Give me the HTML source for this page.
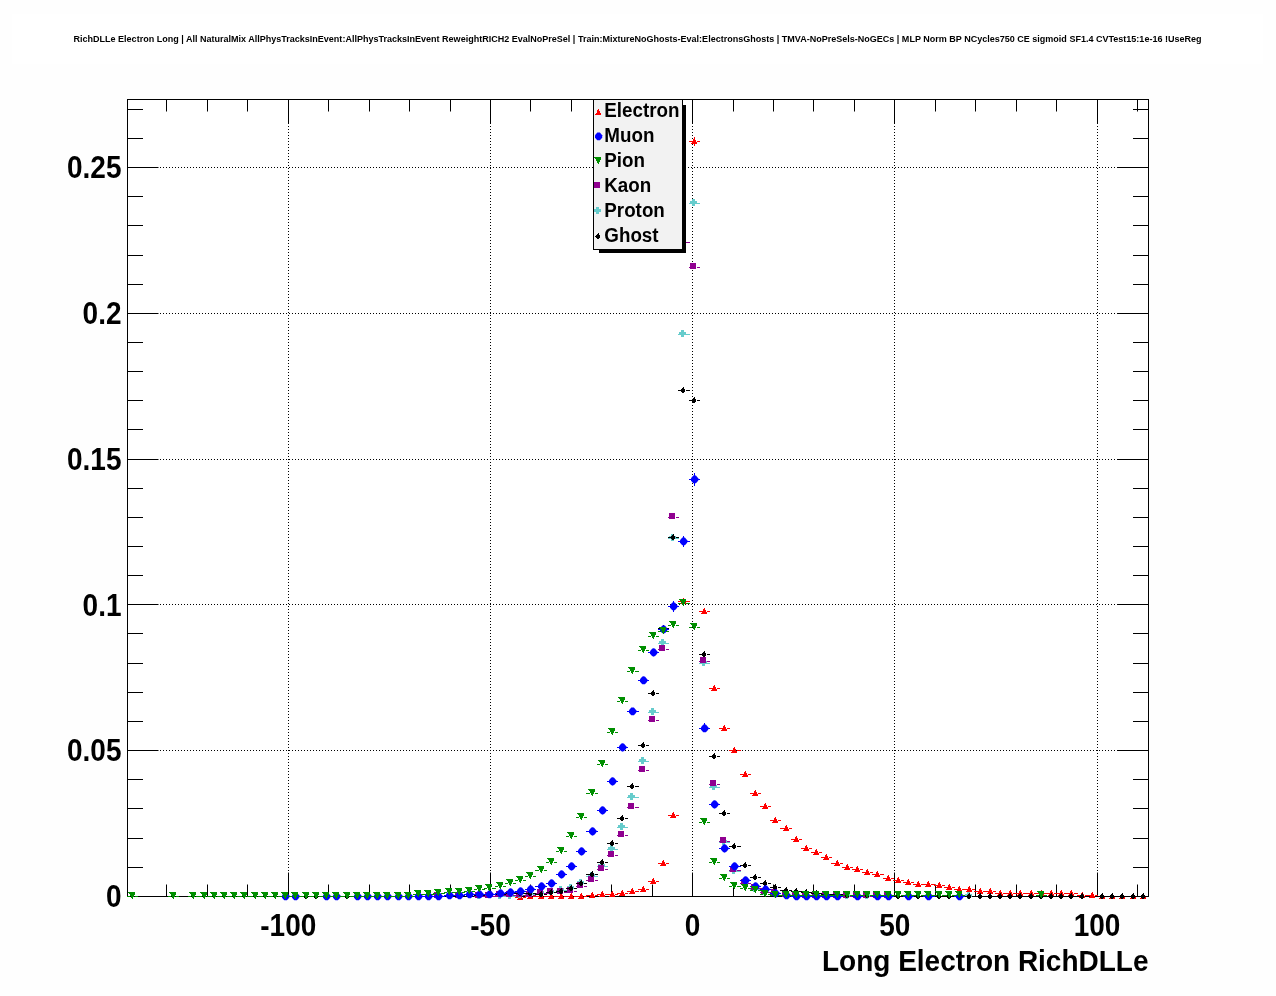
<!DOCTYPE html><html><head><meta charset="utf-8"><style>html,body{margin:0;padding:0;background:#fefefe;width:1276px;height:996px;overflow:hidden;position:relative}</style></head><body><svg width="1276" height="996" viewBox="0 0 1276 996" style="position:absolute;left:0;top:0;will-change:transform">
<rect x="0" y="0" width="1276" height="996" fill="#fefefe"/>
<rect x="12" y="14" width="1251" height="50" fill="#ffffff"/>
<rect x="127" y="99" width="1022" height="798" fill="#ffffff"/>
<text x="637.5" y="41.9" text-anchor="middle" font-family="Liberation Sans" font-weight="bold" font-size="8.7" fill="#000" textLength="1128" lengthAdjust="spacingAndGlyphs">RichDLLe Electron Long | All NaturalMix AllPhysTracksInEvent:AllPhysTracksInEvent ReweightRICH2 EvalNoPreSel | Train:MixtureNoGhosts-Eval:ElectronsGhosts | TMVA-NoPreSels-NoGECs | MLP Norm BP NCycles750 CE sigmoid SF1.4 CVTest15:1e-16 !UseReg</text>
<g stroke="#000" stroke-width="1" stroke-dasharray="1 2" fill="none"><path d="M288.5 895V100" /><path d="M490.5 895V100" /><path d="M692.5 895V100" /><path d="M894.5 895V100" /><path d="M1097.5 895V100" /><path d="M127 750.5H1148" /><path d="M127 604.5H1148" /><path d="M127 459.5H1148" /><path d="M127 313.5H1148" /><path d="M127 167.5H1148" /></g>
<g stroke="#000" stroke-width="1" fill="none"><rect x="127.5" y="99.5" width="1021.0" height="797.0" fill="none"/><path d="M166.5 896.5V884.5M166.5 99.5V111.5"/><path d="M207.5 896.5V884.5M207.5 99.5V111.5"/><path d="M247.5 896.5V884.5M247.5 99.5V111.5"/><path d="M288.5 896.5V872.5M288.5 99.5V123.5"/><path d="M328.5 896.5V884.5M328.5 99.5V111.5"/><path d="M369.5 896.5V884.5M369.5 99.5V111.5"/><path d="M409.5 896.5V884.5M409.5 99.5V111.5"/><path d="M450.5 896.5V884.5M450.5 99.5V111.5"/><path d="M490.5 896.5V872.5M490.5 99.5V123.5"/><path d="M530.5 896.5V884.5M530.5 99.5V111.5"/><path d="M571.5 896.5V884.5M571.5 99.5V111.5"/><path d="M611.5 896.5V884.5M611.5 99.5V111.5"/><path d="M652.5 896.5V884.5M652.5 99.5V111.5"/><path d="M692.5 896.5V872.5M692.5 99.5V123.5"/><path d="M733.5 896.5V884.5M733.5 99.5V111.5"/><path d="M773.5 896.5V884.5M773.5 99.5V111.5"/><path d="M813.5 896.5V884.5M813.5 99.5V111.5"/><path d="M854.5 896.5V884.5M854.5 99.5V111.5"/><path d="M894.5 896.5V872.5M894.5 99.5V123.5"/><path d="M935.5 896.5V884.5M935.5 99.5V111.5"/><path d="M975.5 896.5V884.5M975.5 99.5V111.5"/><path d="M1016.5 896.5V884.5M1016.5 99.5V111.5"/><path d="M1056.5 896.5V884.5M1056.5 99.5V111.5"/><path d="M1097.5 896.5V872.5M1097.5 99.5V123.5"/><path d="M1137.5 896.5V884.5M1137.5 99.5V111.5"/><path d="M127.5 896.5H158.5M1148.5 896.5H1117.5"/><path d="M127.5 867.5H143.0M1148.5 867.5H1133.0"/><path d="M127.5 838.5H143.0M1148.5 838.5H1133.0"/><path d="M127.5 808.5H143.0M1148.5 808.5H1133.0"/><path d="M127.5 779.5H143.0M1148.5 779.5H1133.0"/><path d="M127.5 750.5H158.5M1148.5 750.5H1117.5"/><path d="M127.5 721.5H143.0M1148.5 721.5H1133.0"/><path d="M127.5 692.5H143.0M1148.5 692.5H1133.0"/><path d="M127.5 663.5H143.0M1148.5 663.5H1133.0"/><path d="M127.5 633.5H143.0M1148.5 633.5H1133.0"/><path d="M127.5 604.5H158.5M1148.5 604.5H1117.5"/><path d="M127.5 575.5H143.0M1148.5 575.5H1133.0"/><path d="M127.5 546.5H143.0M1148.5 546.5H1133.0"/><path d="M127.5 517.5H143.0M1148.5 517.5H1133.0"/><path d="M127.5 488.5H143.0M1148.5 488.5H1133.0"/><path d="M127.5 459.5H158.5M1148.5 459.5H1117.5"/><path d="M127.5 429.5H143.0M1148.5 429.5H1133.0"/><path d="M127.5 400.5H143.0M1148.5 400.5H1133.0"/><path d="M127.5 371.5H143.0M1148.5 371.5H1133.0"/><path d="M127.5 342.5H143.0M1148.5 342.5H1133.0"/><path d="M127.5 313.5H158.5M1148.5 313.5H1117.5"/><path d="M127.5 284.5H143.0M1148.5 284.5H1133.0"/><path d="M127.5 255.5H143.0M1148.5 255.5H1133.0"/><path d="M127.5 225.5H143.0M1148.5 225.5H1133.0"/><path d="M127.5 196.5H143.0M1148.5 196.5H1133.0"/><path d="M127.5 167.5H158.5M1148.5 167.5H1117.5"/><path d="M127.5 138.5H143.0M1148.5 138.5H1133.0"/><path d="M127.5 109.5H143.0M1148.5 109.5H1133.0"/></g>
<g shape-rendering="crispEdges"><rect x="515" y="897" width="4" height="1" fill="#ff0000"/><rect x="523" y="897" width="3" height="1" fill="#ff0000"/>
<path d="M520 894h1v1h-1zM519 895h2v1h-2zM519 896h3v1h-3zM519 897h3v1h-3zM518 898h5v1h-5zM517 899h6v1h-6z" fill="#ff0000" shape-rendering="crispEdges"/>
<rect x="525" y="896" width="4" height="1" fill="#ff0000"/><rect x="533" y="896" width="3" height="1" fill="#ff0000"/>
<path d="M530 893h1v1h-1zM529 894h2v1h-2zM529 895h3v1h-3zM529 896h3v1h-3zM528 897h5v1h-5zM527 898h6v1h-6z" fill="#ff0000" shape-rendering="crispEdges"/>
<rect x="535" y="896" width="5" height="1" fill="#ff0000"/><rect x="544" y="896" width="3" height="1" fill="#ff0000"/>
<path d="M541 893h1v1h-1zM540 894h2v1h-2zM540 895h3v1h-3zM540 896h3v1h-3zM539 897h5v1h-5zM538 898h6v1h-6z" fill="#ff0000" shape-rendering="crispEdges"/>
<rect x="546" y="896" width="4" height="1" fill="#ff0000"/><rect x="554" y="896" width="3" height="1" fill="#ff0000"/>
<path d="M551 893h1v1h-1zM550 894h2v1h-2zM550 895h3v1h-3zM550 896h3v1h-3zM549 897h5v1h-5zM548 898h6v1h-6z" fill="#ff0000" shape-rendering="crispEdges"/>
<rect x="556" y="896" width="4" height="1" fill="#ff0000"/><rect x="564" y="896" width="3" height="1" fill="#ff0000"/>
<path d="M561 893h1v1h-1zM560 894h2v1h-2zM560 895h3v1h-3zM560 896h3v1h-3zM559 897h5v1h-5zM558 898h6v1h-6z" fill="#ff0000" shape-rendering="crispEdges"/>
<rect x="566" y="896" width="4" height="1" fill="#ff0000"/><rect x="574" y="896" width="3" height="1" fill="#ff0000"/>
<path d="M571 893h1v1h-1zM570 894h2v1h-2zM570 895h3v1h-3zM570 896h3v1h-3zM569 897h5v1h-5zM568 898h6v1h-6z" fill="#ff0000" shape-rendering="crispEdges"/>
<rect x="576" y="896" width="4" height="1" fill="#ff0000"/><rect x="584" y="896" width="3" height="1" fill="#ff0000"/>
<path d="M581 893h1v1h-1zM580 894h2v1h-2zM580 895h3v1h-3zM580 896h3v1h-3zM579 897h5v1h-5zM578 898h6v1h-6z" fill="#ff0000" shape-rendering="crispEdges"/>
<rect x="586" y="895" width="5" height="1" fill="#ff0000"/><rect x="595" y="895" width="3" height="1" fill="#ff0000"/>
<path d="M592 892h1v1h-1zM591 893h2v1h-2zM591 894h3v1h-3zM591 895h3v1h-3zM590 896h5v1h-5zM589 897h6v1h-6z" fill="#ff0000" shape-rendering="crispEdges"/>
<rect x="597" y="894" width="4" height="1" fill="#ff0000"/><rect x="605" y="894" width="3" height="1" fill="#ff0000"/>
<path d="M602 891h1v1h-1zM601 892h2v1h-2zM601 893h3v1h-3zM601 894h3v1h-3zM600 895h5v1h-5zM599 896h6v1h-6z" fill="#ff0000" shape-rendering="crispEdges"/>
<rect x="607" y="894" width="4" height="1" fill="#ff0000"/><rect x="615" y="894" width="3" height="1" fill="#ff0000"/>
<path d="M612 891h1v1h-1zM611 892h2v1h-2zM611 893h3v1h-3zM611 894h3v1h-3zM610 895h5v1h-5zM609 896h6v1h-6z" fill="#ff0000" shape-rendering="crispEdges"/>
<rect x="617" y="893" width="4" height="1" fill="#ff0000"/><rect x="625" y="893" width="3" height="1" fill="#ff0000"/>
<path d="M622 890h1v1h-1zM621 891h2v1h-2zM621 892h3v1h-3zM621 893h3v1h-3zM620 894h5v1h-5zM619 895h6v1h-6z" fill="#ff0000" shape-rendering="crispEdges"/>
<rect x="627" y="891" width="4" height="1" fill="#ff0000"/><rect x="635" y="891" width="4" height="1" fill="#ff0000"/>
<path d="M632 888h1v1h-1zM631 889h2v1h-2zM631 890h3v1h-3zM631 891h3v1h-3zM630 892h5v1h-5zM629 893h6v1h-6z" fill="#ff0000" shape-rendering="crispEdges"/>
<rect x="638" y="889" width="4" height="1" fill="#ff0000"/><rect x="646" y="889" width="3" height="1" fill="#ff0000"/>
<path d="M643 886h1v1h-1zM642 887h2v1h-2zM642 888h3v1h-3zM642 889h3v1h-3zM641 890h5v1h-5zM640 891h6v1h-6z" fill="#ff0000" shape-rendering="crispEdges"/>
<rect x="648" y="881" width="4" height="1" fill="#ff0000"/><rect x="656" y="881" width="3" height="1" fill="#ff0000"/>
<path d="M653 878h1v1h-1zM652 879h2v1h-2zM652 880h3v1h-3zM652 881h3v1h-3zM651 882h5v1h-5zM650 883h6v1h-6z" fill="#ff0000" shape-rendering="crispEdges"/>
<rect x="658" y="863" width="4" height="1" fill="#ff0000"/><rect x="666" y="863" width="3" height="1" fill="#ff0000"/>
<path d="M663 860h1v1h-1zM662 861h2v1h-2zM662 862h3v1h-3zM662 863h3v1h-3zM661 864h5v1h-5zM660 865h6v1h-6z" fill="#ff0000" shape-rendering="crispEdges"/>
<rect x="668" y="815" width="4" height="1" fill="#ff0000"/><rect x="676" y="815" width="3" height="1" fill="#ff0000"/>
<path d="M673 812h1v1h-1zM672 813h2v1h-2zM672 814h3v1h-3zM672 815h3v1h-3zM671 816h5v1h-5zM670 817h6v1h-6z" fill="#ff0000" shape-rendering="crispEdges"/>
<rect x="678" y="601" width="4" height="1" fill="#ff0000"/><rect x="686" y="601" width="4" height="1" fill="#ff0000"/>
<path d="M683 598h1v1h-1zM682 599h2v1h-2zM682 600h3v1h-3zM682 601h3v1h-3zM681 602h5v1h-5zM680 603h6v1h-6z" fill="#ff0000" shape-rendering="crispEdges"/>
<rect x="689" y="141" width="4" height="1" fill="#ff0000"/><rect x="697" y="141" width="3" height="1" fill="#ff0000"/>
<rect x="694" y="137" width="1" height="9" fill="#ff0000" opacity="1"/>
<path d="M694 138h1v1h-1zM693 139h2v1h-2zM693 140h3v1h-3zM693 141h3v1h-3zM692 142h5v1h-5zM691 143h6v1h-6z" fill="#ff0000" shape-rendering="crispEdges"/>
<rect x="699" y="611" width="4" height="1" fill="#ff0000"/><rect x="707" y="611" width="3" height="1" fill="#ff0000"/>
<path d="M704 608h1v1h-1zM703 609h2v1h-2zM703 610h3v1h-3zM703 611h3v1h-3zM702 612h5v1h-5zM701 613h6v1h-6z" fill="#ff0000" shape-rendering="crispEdges"/>
<rect x="709" y="688" width="4" height="1" fill="#ff0000"/><rect x="717" y="688" width="3" height="1" fill="#ff0000"/>
<path d="M714 685h1v1h-1zM713 686h2v1h-2zM713 687h3v1h-3zM713 688h3v1h-3zM712 689h5v1h-5zM711 690h6v1h-6z" fill="#ff0000" shape-rendering="crispEdges"/>
<rect x="719" y="728" width="4" height="1" fill="#ff0000"/><rect x="727" y="728" width="3" height="1" fill="#ff0000"/>
<path d="M724 725h1v1h-1zM723 726h2v1h-2zM723 727h3v1h-3zM723 728h3v1h-3zM722 729h5v1h-5zM721 730h6v1h-6z" fill="#ff0000" shape-rendering="crispEdges"/>
<rect x="729" y="750" width="4" height="1" fill="#ff0000"/><rect x="737" y="750" width="4" height="1" fill="#ff0000"/>
<path d="M734 747h1v1h-1zM733 748h2v1h-2zM733 749h3v1h-3zM733 750h3v1h-3zM732 751h5v1h-5zM731 752h6v1h-6z" fill="#ff0000" shape-rendering="crispEdges"/>
<rect x="740" y="774" width="4" height="1" fill="#ff0000"/><rect x="748" y="774" width="3" height="1" fill="#ff0000"/>
<path d="M745 771h1v1h-1zM744 772h2v1h-2zM744 773h3v1h-3zM744 774h3v1h-3zM743 775h5v1h-5zM742 776h6v1h-6z" fill="#ff0000" shape-rendering="crispEdges"/>
<rect x="750" y="793" width="4" height="1" fill="#ff0000"/><rect x="758" y="793" width="3" height="1" fill="#ff0000"/>
<path d="M755 790h1v1h-1zM754 791h2v1h-2zM754 792h3v1h-3zM754 793h3v1h-3zM753 794h5v1h-5zM752 795h6v1h-6z" fill="#ff0000" shape-rendering="crispEdges"/>
<rect x="760" y="806" width="4" height="1" fill="#ff0000"/><rect x="768" y="806" width="3" height="1" fill="#ff0000"/>
<path d="M765 803h1v1h-1zM764 804h2v1h-2zM764 805h3v1h-3zM764 806h3v1h-3zM763 807h5v1h-5zM762 808h6v1h-6z" fill="#ff0000" shape-rendering="crispEdges"/>
<rect x="770" y="820" width="4" height="1" fill="#ff0000"/><rect x="778" y="820" width="3" height="1" fill="#ff0000"/>
<path d="M775 817h1v1h-1zM774 818h2v1h-2zM774 819h3v1h-3zM774 820h3v1h-3zM773 821h5v1h-5zM772 822h6v1h-6z" fill="#ff0000" shape-rendering="crispEdges"/>
<rect x="780" y="828" width="5" height="1" fill="#ff0000"/><rect x="789" y="828" width="3" height="1" fill="#ff0000"/>
<path d="M786 825h1v1h-1zM785 826h2v1h-2zM785 827h3v1h-3zM785 828h3v1h-3zM784 829h5v1h-5zM783 830h6v1h-6z" fill="#ff0000" shape-rendering="crispEdges"/>
<rect x="791" y="839" width="4" height="1" fill="#ff0000"/><rect x="799" y="839" width="3" height="1" fill="#ff0000"/>
<path d="M796 836h1v1h-1zM795 837h2v1h-2zM795 838h3v1h-3zM795 839h3v1h-3zM794 840h5v1h-5zM793 841h6v1h-6z" fill="#ff0000" shape-rendering="crispEdges"/>
<rect x="801" y="848" width="4" height="1" fill="#ff0000"/><rect x="809" y="848" width="3" height="1" fill="#ff0000"/>
<path d="M806 845h1v1h-1zM805 846h2v1h-2zM805 847h3v1h-3zM805 848h3v1h-3zM804 849h5v1h-5zM803 850h6v1h-6z" fill="#ff0000" shape-rendering="crispEdges"/>
<rect x="811" y="852" width="4" height="1" fill="#ff0000"/><rect x="819" y="852" width="3" height="1" fill="#ff0000"/>
<path d="M816 849h1v1h-1zM815 850h2v1h-2zM815 851h3v1h-3zM815 852h3v1h-3zM814 853h5v1h-5zM813 854h6v1h-6z" fill="#ff0000" shape-rendering="crispEdges"/>
<rect x="821" y="857" width="4" height="1" fill="#ff0000"/><rect x="829" y="857" width="3" height="1" fill="#ff0000"/>
<path d="M826 854h1v1h-1zM825 855h2v1h-2zM825 856h3v1h-3zM825 857h3v1h-3zM824 858h5v1h-5zM823 859h6v1h-6z" fill="#ff0000" shape-rendering="crispEdges"/>
<rect x="831" y="863" width="5" height="1" fill="#ff0000"/><rect x="840" y="863" width="3" height="1" fill="#ff0000"/>
<path d="M837 860h1v1h-1zM836 861h2v1h-2zM836 862h3v1h-3zM836 863h3v1h-3zM835 864h5v1h-5zM834 865h6v1h-6z" fill="#ff0000" shape-rendering="crispEdges"/>
<rect x="842" y="867" width="4" height="1" fill="#ff0000"/><rect x="850" y="867" width="3" height="1" fill="#ff0000"/>
<path d="M847 864h1v1h-1zM846 865h2v1h-2zM846 866h3v1h-3zM846 867h3v1h-3zM845 868h5v1h-5zM844 869h6v1h-6z" fill="#ff0000" shape-rendering="crispEdges"/>
<rect x="852" y="869" width="4" height="1" fill="#ff0000"/><rect x="860" y="869" width="3" height="1" fill="#ff0000"/>
<path d="M857 866h1v1h-1zM856 867h2v1h-2zM856 868h3v1h-3zM856 869h3v1h-3zM855 870h5v1h-5zM854 871h6v1h-6z" fill="#ff0000" shape-rendering="crispEdges"/>
<rect x="862" y="872" width="4" height="1" fill="#ff0000"/><rect x="870" y="872" width="3" height="1" fill="#ff0000"/>
<path d="M867 869h1v1h-1zM866 870h2v1h-2zM866 871h3v1h-3zM866 872h3v1h-3zM865 873h5v1h-5zM864 874h6v1h-6z" fill="#ff0000" shape-rendering="crispEdges"/>
<rect x="872" y="874" width="4" height="1" fill="#ff0000"/><rect x="880" y="874" width="4" height="1" fill="#ff0000"/>
<path d="M877 871h1v1h-1zM876 872h2v1h-2zM876 873h3v1h-3zM876 874h3v1h-3zM875 875h5v1h-5zM874 876h6v1h-6z" fill="#ff0000" shape-rendering="crispEdges"/>
<rect x="883" y="878" width="4" height="1" fill="#ff0000"/><rect x="891" y="878" width="3" height="1" fill="#ff0000"/>
<path d="M888 875h1v1h-1zM887 876h2v1h-2zM887 877h3v1h-3zM887 878h3v1h-3zM886 879h5v1h-5zM885 880h6v1h-6z" fill="#ff0000" shape-rendering="crispEdges"/>
<rect x="893" y="880" width="4" height="1" fill="#ff0000"/><rect x="901" y="880" width="3" height="1" fill="#ff0000"/>
<path d="M898 877h1v1h-1zM897 878h2v1h-2zM897 879h3v1h-3zM897 880h3v1h-3zM896 881h5v1h-5zM895 882h6v1h-6z" fill="#ff0000" shape-rendering="crispEdges"/>
<rect x="903" y="882" width="4" height="1" fill="#ff0000"/><rect x="911" y="882" width="3" height="1" fill="#ff0000"/>
<path d="M908 879h1v1h-1zM907 880h2v1h-2zM907 881h3v1h-3zM907 882h3v1h-3zM906 883h5v1h-5zM905 884h6v1h-6z" fill="#ff0000" shape-rendering="crispEdges"/>
<rect x="913" y="884" width="4" height="1" fill="#ff0000"/><rect x="921" y="884" width="3" height="1" fill="#ff0000"/>
<path d="M918 881h1v1h-1zM917 882h2v1h-2zM917 883h3v1h-3zM917 884h3v1h-3zM916 885h5v1h-5zM915 886h6v1h-6z" fill="#ff0000" shape-rendering="crispEdges"/>
<rect x="923" y="884" width="4" height="1" fill="#ff0000"/><rect x="931" y="884" width="4" height="1" fill="#ff0000"/>
<path d="M928 881h1v1h-1zM927 882h2v1h-2zM927 883h3v1h-3zM927 884h3v1h-3zM926 885h5v1h-5zM925 886h6v1h-6z" fill="#ff0000" shape-rendering="crispEdges"/>
<rect x="934" y="885" width="4" height="1" fill="#ff0000"/><rect x="942" y="885" width="3" height="1" fill="#ff0000"/>
<path d="M939 882h1v1h-1zM938 883h2v1h-2zM938 884h3v1h-3zM938 885h3v1h-3zM937 886h5v1h-5zM936 887h6v1h-6z" fill="#ff0000" shape-rendering="crispEdges"/>
<rect x="944" y="887" width="4" height="1" fill="#ff0000"/><rect x="952" y="887" width="3" height="1" fill="#ff0000"/>
<path d="M949 884h1v1h-1zM948 885h2v1h-2zM948 886h3v1h-3zM948 887h3v1h-3zM947 888h5v1h-5zM946 889h6v1h-6z" fill="#ff0000" shape-rendering="crispEdges"/>
<rect x="954" y="889" width="4" height="1" fill="#ff0000"/><rect x="962" y="889" width="3" height="1" fill="#ff0000"/>
<path d="M959 886h1v1h-1zM958 887h2v1h-2zM958 888h3v1h-3zM958 889h3v1h-3zM957 890h5v1h-5zM956 891h6v1h-6z" fill="#ff0000" shape-rendering="crispEdges"/>
<rect x="964" y="889" width="4" height="1" fill="#ff0000"/><rect x="972" y="889" width="3" height="1" fill="#ff0000"/>
<path d="M969 886h1v1h-1zM968 887h2v1h-2zM968 888h3v1h-3zM968 889h3v1h-3zM967 890h5v1h-5zM966 891h6v1h-6z" fill="#ff0000" shape-rendering="crispEdges"/>
<rect x="974" y="891" width="5" height="1" fill="#ff0000"/><rect x="983" y="891" width="3" height="1" fill="#ff0000"/>
<path d="M980 888h1v1h-1zM979 889h2v1h-2zM979 890h3v1h-3zM979 891h3v1h-3zM978 892h5v1h-5zM977 893h6v1h-6z" fill="#ff0000" shape-rendering="crispEdges"/>
<rect x="985" y="891" width="4" height="1" fill="#ff0000"/><rect x="993" y="891" width="3" height="1" fill="#ff0000"/>
<path d="M990 888h1v1h-1zM989 889h2v1h-2zM989 890h3v1h-3zM989 891h3v1h-3zM988 892h5v1h-5zM987 893h6v1h-6z" fill="#ff0000" shape-rendering="crispEdges"/>
<rect x="995" y="893" width="4" height="1" fill="#ff0000"/><rect x="1003" y="893" width="3" height="1" fill="#ff0000"/>
<path d="M1000 890h1v1h-1zM999 891h2v1h-2zM999 892h3v1h-3zM999 893h3v1h-3zM998 894h5v1h-5zM997 895h6v1h-6z" fill="#ff0000" shape-rendering="crispEdges"/>
<rect x="1005" y="893" width="4" height="1" fill="#ff0000"/><rect x="1013" y="893" width="3" height="1" fill="#ff0000"/>
<path d="M1010 890h1v1h-1zM1009 891h2v1h-2zM1009 892h3v1h-3zM1009 893h3v1h-3zM1008 894h5v1h-5zM1007 895h6v1h-6z" fill="#ff0000" shape-rendering="crispEdges"/>
<rect x="1015" y="893" width="4" height="1" fill="#ff0000"/><rect x="1023" y="893" width="3" height="1" fill="#ff0000"/>
<path d="M1020 890h1v1h-1zM1019 891h2v1h-2zM1019 892h3v1h-3zM1019 893h3v1h-3zM1018 894h5v1h-5zM1017 895h6v1h-6z" fill="#ff0000" shape-rendering="crispEdges"/>
<rect x="1025" y="893" width="5" height="1" fill="#ff0000"/><rect x="1034" y="893" width="3" height="1" fill="#ff0000"/>
<path d="M1031 890h1v1h-1zM1030 891h2v1h-2zM1030 892h3v1h-3zM1030 893h3v1h-3zM1029 894h5v1h-5zM1028 895h6v1h-6z" fill="#ff0000" shape-rendering="crispEdges"/>
<rect x="1036" y="893" width="4" height="1" fill="#ff0000"/><rect x="1044" y="893" width="3" height="1" fill="#ff0000"/>
<path d="M1041 890h1v1h-1zM1040 891h2v1h-2zM1040 892h3v1h-3zM1040 893h3v1h-3zM1039 894h5v1h-5zM1038 895h6v1h-6z" fill="#ff0000" shape-rendering="crispEdges"/>
<rect x="1046" y="893" width="4" height="1" fill="#ff0000"/><rect x="1054" y="893" width="3" height="1" fill="#ff0000"/>
<path d="M1051 890h1v1h-1zM1050 891h2v1h-2zM1050 892h3v1h-3zM1050 893h3v1h-3zM1049 894h5v1h-5zM1048 895h6v1h-6z" fill="#ff0000" shape-rendering="crispEdges"/>
<rect x="1056" y="893" width="4" height="1" fill="#ff0000"/><rect x="1064" y="893" width="3" height="1" fill="#ff0000"/>
<path d="M1061 890h1v1h-1zM1060 891h2v1h-2zM1060 892h3v1h-3zM1060 893h3v1h-3zM1059 894h5v1h-5zM1058 895h6v1h-6z" fill="#ff0000" shape-rendering="crispEdges"/>
<rect x="1066" y="893" width="4" height="1" fill="#ff0000"/><rect x="1074" y="893" width="4" height="1" fill="#ff0000"/>
<path d="M1071 890h1v1h-1zM1070 891h2v1h-2zM1070 892h3v1h-3zM1070 893h3v1h-3zM1069 894h5v1h-5zM1068 895h6v1h-6z" fill="#ff0000" shape-rendering="crispEdges"/>
<rect x="1077" y="895" width="4" height="1" fill="#ff0000"/><rect x="1085" y="895" width="3" height="1" fill="#ff0000"/>
<path d="M1082 892h1v1h-1zM1081 893h2v1h-2zM1081 894h3v1h-3zM1081 895h3v1h-3zM1080 896h5v1h-5zM1079 897h6v1h-6z" fill="#ff0000" shape-rendering="crispEdges"/>
<rect x="1087" y="895" width="4" height="1" fill="#ff0000"/><rect x="1095" y="895" width="3" height="1" fill="#ff0000"/>
<path d="M1092 892h1v1h-1zM1091 893h2v1h-2zM1091 894h3v1h-3zM1091 895h3v1h-3zM1090 896h5v1h-5zM1089 897h6v1h-6z" fill="#ff0000" shape-rendering="crispEdges"/>
<rect x="1097" y="896" width="4" height="1" fill="#ff0000"/><rect x="1105" y="896" width="3" height="1" fill="#ff0000"/>
<path d="M1102 893h1v1h-1zM1101 894h2v1h-2zM1101 895h3v1h-3zM1101 896h3v1h-3zM1100 897h5v1h-5zM1099 898h6v1h-6z" fill="#ff0000" shape-rendering="crispEdges"/>
<rect x="1107" y="896" width="4" height="1" fill="#ff0000"/><rect x="1115" y="896" width="3" height="1" fill="#ff0000"/>
<path d="M1112 893h1v1h-1zM1111 894h2v1h-2zM1111 895h3v1h-3zM1111 896h3v1h-3zM1110 897h5v1h-5zM1109 898h6v1h-6z" fill="#ff0000" shape-rendering="crispEdges"/>
<rect x="1117" y="896" width="4" height="1" fill="#ff0000"/><rect x="1125" y="896" width="4" height="1" fill="#ff0000"/>
<path d="M1122 893h1v1h-1zM1121 894h2v1h-2zM1121 895h3v1h-3zM1121 896h3v1h-3zM1120 897h5v1h-5zM1119 898h6v1h-6z" fill="#ff0000" shape-rendering="crispEdges"/>
<rect x="1128" y="896" width="4" height="1" fill="#ff0000"/><rect x="1136" y="896" width="3" height="1" fill="#ff0000"/>
<path d="M1133 893h1v1h-1zM1132 894h2v1h-2zM1132 895h3v1h-3zM1132 896h3v1h-3zM1131 897h5v1h-5zM1130 898h6v1h-6z" fill="#ff0000" shape-rendering="crispEdges"/>
<rect x="1138" y="896" width="4" height="1" fill="#ff0000"/><rect x="1146" y="896" width="3" height="1" fill="#ff0000"/>
<path d="M1143 893h1v1h-1zM1142 894h2v1h-2zM1142 895h3v1h-3zM1142 896h3v1h-3zM1141 897h5v1h-5zM1140 898h6v1h-6z" fill="#ff0000" shape-rendering="crispEdges"/></g>
<g shape-rendering="crispEdges"><rect x="474" y="896" width="3" height="1" fill="#66cccc"/><rect x="482" y="896" width="3" height="1" fill="#66cccc"/>
<path d="M477 892h3v1h-3zM477 893h3v1h-3zM475 894h7v1h-7zM475 895h7v1h-7zM475 896h7v1h-7zM477 897h3v1h-3zM477 898h3v1h-3z" fill="#66cccc" shape-rendering="crispEdges"/>
<rect x="495" y="896" width="3" height="1" fill="#66cccc"/><rect x="503" y="896" width="3" height="1" fill="#66cccc"/>
<path d="M498 892h3v1h-3zM498 893h3v1h-3zM496 894h7v1h-7zM496 895h7v1h-7zM496 896h7v1h-7zM498 897h3v1h-3zM498 898h3v1h-3z" fill="#66cccc" shape-rendering="crispEdges"/>
<rect x="505" y="896" width="3" height="1" fill="#66cccc"/><rect x="513" y="896" width="3" height="1" fill="#66cccc"/>
<path d="M508 892h3v1h-3zM508 893h3v1h-3zM506 894h7v1h-7zM506 895h7v1h-7zM506 896h7v1h-7zM508 897h3v1h-3zM508 898h3v1h-3z" fill="#66cccc" shape-rendering="crispEdges"/>
<rect x="515" y="895" width="3" height="1" fill="#66cccc"/><rect x="523" y="895" width="3" height="1" fill="#66cccc"/>
<path d="M518 891h3v1h-3zM518 892h3v1h-3zM516 893h7v1h-7zM516 894h7v1h-7zM516 895h7v1h-7zM518 896h3v1h-3zM518 897h3v1h-3z" fill="#66cccc" shape-rendering="crispEdges"/>
<rect x="525" y="894" width="3" height="1" fill="#66cccc"/><rect x="533" y="894" width="3" height="1" fill="#66cccc"/>
<path d="M528 890h3v1h-3zM528 891h3v1h-3zM526 892h7v1h-7zM526 893h7v1h-7zM526 894h7v1h-7zM528 895h3v1h-3zM528 896h3v1h-3z" fill="#66cccc" shape-rendering="crispEdges"/>
<rect x="535" y="893" width="4" height="1" fill="#66cccc"/><rect x="544" y="893" width="3" height="1" fill="#66cccc"/>
<path d="M539 889h3v1h-3zM539 890h3v1h-3zM537 891h7v1h-7zM537 892h7v1h-7zM537 893h7v1h-7zM539 894h3v1h-3zM539 895h3v1h-3z" fill="#66cccc" shape-rendering="crispEdges"/>
<rect x="546" y="892" width="3" height="1" fill="#66cccc"/><rect x="554" y="892" width="3" height="1" fill="#66cccc"/>
<path d="M549 888h3v1h-3zM549 889h3v1h-3zM547 890h7v1h-7zM547 891h7v1h-7zM547 892h7v1h-7zM549 893h3v1h-3zM549 894h3v1h-3z" fill="#66cccc" shape-rendering="crispEdges"/>
<rect x="556" y="890" width="3" height="1" fill="#66cccc"/><rect x="564" y="890" width="3" height="1" fill="#66cccc"/>
<path d="M559 886h3v1h-3zM559 887h3v1h-3zM557 888h7v1h-7zM557 889h7v1h-7zM557 890h7v1h-7zM559 891h3v1h-3zM559 892h3v1h-3z" fill="#66cccc" shape-rendering="crispEdges"/>
<rect x="566" y="888" width="3" height="1" fill="#66cccc"/><rect x="574" y="888" width="3" height="1" fill="#66cccc"/>
<path d="M569 884h3v1h-3zM569 885h3v1h-3zM567 886h7v1h-7zM567 887h7v1h-7zM567 888h7v1h-7zM569 889h3v1h-3zM569 890h3v1h-3z" fill="#66cccc" shape-rendering="crispEdges"/>
<rect x="576" y="883" width="3" height="1" fill="#66cccc"/><rect x="584" y="883" width="3" height="1" fill="#66cccc"/>
<path d="M579 879h3v1h-3zM579 880h3v1h-3zM577 881h7v1h-7zM577 882h7v1h-7zM577 883h7v1h-7zM579 884h3v1h-3zM579 885h3v1h-3z" fill="#66cccc" shape-rendering="crispEdges"/>
<rect x="586" y="876" width="4" height="1" fill="#66cccc"/><rect x="595" y="876" width="3" height="1" fill="#66cccc"/>
<path d="M590 872h3v1h-3zM590 873h3v1h-3zM588 874h7v1h-7zM588 875h7v1h-7zM588 876h7v1h-7zM590 877h3v1h-3zM590 878h3v1h-3z" fill="#66cccc" shape-rendering="crispEdges"/>
<rect x="597" y="866" width="3" height="1" fill="#66cccc"/><rect x="605" y="866" width="3" height="1" fill="#66cccc"/>
<path d="M600 862h3v1h-3zM600 863h3v1h-3zM598 864h7v1h-7zM598 865h7v1h-7zM598 866h7v1h-7zM600 867h3v1h-3zM600 868h3v1h-3z" fill="#66cccc" shape-rendering="crispEdges"/>
<rect x="607" y="849" width="3" height="1" fill="#66cccc"/><rect x="615" y="849" width="3" height="1" fill="#66cccc"/>
<path d="M610 845h3v1h-3zM610 846h3v1h-3zM608 847h7v1h-7zM608 848h7v1h-7zM608 849h7v1h-7zM610 850h3v1h-3zM610 851h3v1h-3z" fill="#66cccc" shape-rendering="crispEdges"/>
<rect x="617" y="827" width="3" height="1" fill="#66cccc"/><rect x="625" y="827" width="3" height="1" fill="#66cccc"/>
<path d="M620 823h3v1h-3zM620 824h3v1h-3zM618 825h7v1h-7zM618 826h7v1h-7zM618 827h7v1h-7zM620 828h3v1h-3zM620 829h3v1h-3z" fill="#66cccc" shape-rendering="crispEdges"/>
<rect x="627" y="797" width="3" height="1" fill="#66cccc"/><rect x="635" y="797" width="4" height="1" fill="#66cccc"/>
<path d="M630 793h3v1h-3zM630 794h3v1h-3zM628 795h7v1h-7zM628 796h7v1h-7zM628 797h7v1h-7zM630 798h3v1h-3zM630 799h3v1h-3z" fill="#66cccc" shape-rendering="crispEdges"/>
<rect x="638" y="761" width="3" height="1" fill="#66cccc"/><rect x="646" y="761" width="3" height="1" fill="#66cccc"/>
<path d="M641 757h3v1h-3zM641 758h3v1h-3zM639 759h7v1h-7zM639 760h7v1h-7zM639 761h7v1h-7zM641 762h3v1h-3zM641 763h3v1h-3z" fill="#66cccc" shape-rendering="crispEdges"/>
<rect x="648" y="712" width="3" height="1" fill="#66cccc"/><rect x="656" y="712" width="3" height="1" fill="#66cccc"/>
<path d="M651 708h3v1h-3zM651 709h3v1h-3zM649 710h7v1h-7zM649 711h7v1h-7zM649 712h7v1h-7zM651 713h3v1h-3zM651 714h3v1h-3z" fill="#66cccc" shape-rendering="crispEdges"/>
<rect x="658" y="643" width="3" height="1" fill="#66cccc"/><rect x="666" y="643" width="3" height="1" fill="#66cccc"/>
<path d="M661 639h3v1h-3zM661 640h3v1h-3zM659 641h7v1h-7zM659 642h7v1h-7zM659 643h7v1h-7zM661 644h3v1h-3zM661 645h3v1h-3z" fill="#66cccc" shape-rendering="crispEdges"/>
<rect x="668" y="538" width="3" height="1" fill="#66cccc"/><rect x="676" y="538" width="3" height="1" fill="#66cccc"/>
<path d="M671 534h3v1h-3zM671 535h3v1h-3zM669 536h7v1h-7zM669 537h7v1h-7zM669 538h7v1h-7zM671 539h3v1h-3zM671 540h3v1h-3z" fill="#66cccc" shape-rendering="crispEdges"/>
<rect x="678" y="334" width="3" height="1" fill="#66cccc"/><rect x="686" y="334" width="4" height="1" fill="#66cccc"/>
<path d="M681 330h3v1h-3zM681 331h3v1h-3zM679 332h7v1h-7zM679 333h7v1h-7zM679 334h7v1h-7zM681 335h3v1h-3zM681 336h3v1h-3z" fill="#66cccc" shape-rendering="crispEdges"/>
<rect x="689" y="203" width="3" height="1" fill="#66cccc"/><rect x="697" y="203" width="3" height="1" fill="#66cccc"/>
<path d="M692 199h3v1h-3zM692 200h3v1h-3zM690 201h7v1h-7zM690 202h7v1h-7zM690 203h7v1h-7zM692 204h3v1h-3zM692 205h3v1h-3z" fill="#66cccc" shape-rendering="crispEdges"/>
<rect x="699" y="663" width="3" height="1" fill="#66cccc"/><rect x="707" y="663" width="3" height="1" fill="#66cccc"/>
<path d="M702 659h3v1h-3zM702 660h3v1h-3zM700 661h7v1h-7zM700 662h7v1h-7zM700 663h7v1h-7zM702 664h3v1h-3zM702 665h3v1h-3z" fill="#66cccc" shape-rendering="crispEdges"/>
<rect x="709" y="787" width="3" height="1" fill="#66cccc"/><rect x="717" y="787" width="3" height="1" fill="#66cccc"/>
<path d="M712 783h3v1h-3zM712 784h3v1h-3zM710 785h7v1h-7zM710 786h7v1h-7zM710 787h7v1h-7zM712 788h3v1h-3zM712 789h3v1h-3z" fill="#66cccc" shape-rendering="crispEdges"/>
<rect x="719" y="842" width="3" height="1" fill="#66cccc"/><rect x="727" y="842" width="3" height="1" fill="#66cccc"/>
<path d="M722 838h3v1h-3zM722 839h3v1h-3zM720 840h7v1h-7zM720 841h7v1h-7zM720 842h7v1h-7zM722 843h3v1h-3zM722 844h3v1h-3z" fill="#66cccc" shape-rendering="crispEdges"/>
<rect x="729" y="871" width="3" height="1" fill="#66cccc"/><rect x="737" y="871" width="4" height="1" fill="#66cccc"/>
<path d="M732 867h3v1h-3zM732 868h3v1h-3zM730 869h7v1h-7zM730 870h7v1h-7zM730 871h7v1h-7zM732 872h3v1h-3zM732 873h3v1h-3z" fill="#66cccc" shape-rendering="crispEdges"/>
<rect x="740" y="883" width="3" height="1" fill="#66cccc"/><rect x="748" y="883" width="3" height="1" fill="#66cccc"/>
<path d="M743 879h3v1h-3zM743 880h3v1h-3zM741 881h7v1h-7zM741 882h7v1h-7zM741 883h7v1h-7zM743 884h3v1h-3zM743 885h3v1h-3z" fill="#66cccc" shape-rendering="crispEdges"/>
<rect x="750" y="889" width="3" height="1" fill="#66cccc"/><rect x="758" y="889" width="3" height="1" fill="#66cccc"/>
<path d="M753 885h3v1h-3zM753 886h3v1h-3zM751 887h7v1h-7zM751 888h7v1h-7zM751 889h7v1h-7zM753 890h3v1h-3zM753 891h3v1h-3z" fill="#66cccc" shape-rendering="crispEdges"/>
<rect x="760" y="892" width="3" height="1" fill="#66cccc"/><rect x="768" y="892" width="3" height="1" fill="#66cccc"/>
<path d="M763 888h3v1h-3zM763 889h3v1h-3zM761 890h7v1h-7zM761 891h7v1h-7zM761 892h7v1h-7zM763 893h3v1h-3zM763 894h3v1h-3z" fill="#66cccc" shape-rendering="crispEdges"/>
<rect x="770" y="893" width="3" height="1" fill="#66cccc"/><rect x="778" y="893" width="3" height="1" fill="#66cccc"/>
<path d="M773 889h3v1h-3zM773 890h3v1h-3zM771 891h7v1h-7zM771 892h7v1h-7zM771 893h7v1h-7zM773 894h3v1h-3zM773 895h3v1h-3z" fill="#66cccc" shape-rendering="crispEdges"/>
<rect x="780" y="895" width="4" height="1" fill="#66cccc"/><rect x="789" y="895" width="3" height="1" fill="#66cccc"/>
<path d="M784 891h3v1h-3zM784 892h3v1h-3zM782 893h7v1h-7zM782 894h7v1h-7zM782 895h7v1h-7zM784 896h3v1h-3zM784 897h3v1h-3z" fill="#66cccc" shape-rendering="crispEdges"/>
<rect x="791" y="895" width="3" height="1" fill="#66cccc"/><rect x="799" y="895" width="3" height="1" fill="#66cccc"/>
<path d="M794 891h3v1h-3zM794 892h3v1h-3zM792 893h7v1h-7zM792 894h7v1h-7zM792 895h7v1h-7zM794 896h3v1h-3zM794 897h3v1h-3z" fill="#66cccc" shape-rendering="crispEdges"/>
<rect x="801" y="896" width="3" height="1" fill="#66cccc"/><rect x="809" y="896" width="3" height="1" fill="#66cccc"/>
<path d="M804 892h3v1h-3zM804 893h3v1h-3zM802 894h7v1h-7zM802 895h7v1h-7zM802 896h7v1h-7zM804 897h3v1h-3zM804 898h3v1h-3z" fill="#66cccc" shape-rendering="crispEdges"/>
<rect x="811" y="896" width="3" height="1" fill="#66cccc"/><rect x="819" y="896" width="3" height="1" fill="#66cccc"/>
<path d="M814 892h3v1h-3zM814 893h3v1h-3zM812 894h7v1h-7zM812 895h7v1h-7zM812 896h7v1h-7zM814 897h3v1h-3zM814 898h3v1h-3z" fill="#66cccc" shape-rendering="crispEdges"/>
<rect x="821" y="896" width="3" height="1" fill="#66cccc"/><rect x="829" y="896" width="3" height="1" fill="#66cccc"/>
<path d="M824 892h3v1h-3zM824 893h3v1h-3zM822 894h7v1h-7zM822 895h7v1h-7zM822 896h7v1h-7zM824 897h3v1h-3zM824 898h3v1h-3z" fill="#66cccc" shape-rendering="crispEdges"/>
<rect x="842" y="896" width="3" height="1" fill="#66cccc"/><rect x="850" y="896" width="3" height="1" fill="#66cccc"/>
<path d="M845 892h3v1h-3zM845 893h3v1h-3zM843 894h7v1h-7zM843 895h7v1h-7zM843 896h7v1h-7zM845 897h3v1h-3zM845 898h3v1h-3z" fill="#66cccc" shape-rendering="crispEdges"/>
<rect x="862" y="896" width="3" height="1" fill="#66cccc"/><rect x="870" y="896" width="3" height="1" fill="#66cccc"/>
<path d="M865 892h3v1h-3zM865 893h3v1h-3zM863 894h7v1h-7zM863 895h7v1h-7zM863 896h7v1h-7zM865 897h3v1h-3zM865 898h3v1h-3z" fill="#66cccc" shape-rendering="crispEdges"/>
<rect x="964" y="896" width="3" height="1" fill="#66cccc"/><rect x="972" y="896" width="3" height="1" fill="#66cccc"/>
<path d="M967 892h3v1h-3zM967 893h3v1h-3zM965 894h7v1h-7zM965 895h7v1h-7zM965 896h7v1h-7zM967 897h3v1h-3zM967 898h3v1h-3z" fill="#66cccc" shape-rendering="crispEdges"/></g>
<g shape-rendering="crispEdges"><rect x="433" y="896" width="3" height="1" fill="#900090"/><rect x="441" y="896" width="4" height="1" fill="#900090"/>
<path d="M434 892h6v1h-6zM434 893h6v1h-6zM434 894h6v1h-6zM434 895h6v1h-6zM434 896h6v1h-6zM434 897h6v1h-6z" fill="#900090" shape-rendering="crispEdges"/>
<rect x="454" y="896" width="3" height="1" fill="#900090"/><rect x="462" y="896" width="3" height="1" fill="#900090"/>
<path d="M455 892h6v1h-6zM455 893h6v1h-6zM455 894h6v1h-6zM455 895h6v1h-6zM455 896h6v1h-6zM455 897h6v1h-6z" fill="#900090" shape-rendering="crispEdges"/>
<rect x="474" y="896" width="3" height="1" fill="#900090"/><rect x="482" y="896" width="3" height="1" fill="#900090"/>
<path d="M475 892h6v1h-6zM475 893h6v1h-6zM475 894h6v1h-6zM475 895h6v1h-6zM475 896h6v1h-6zM475 897h6v1h-6z" fill="#900090" shape-rendering="crispEdges"/>
<rect x="484" y="896" width="3" height="1" fill="#900090"/><rect x="492" y="896" width="4" height="1" fill="#900090"/>
<path d="M485 892h6v1h-6zM485 893h6v1h-6zM485 894h6v1h-6zM485 895h6v1h-6zM485 896h6v1h-6zM485 897h6v1h-6z" fill="#900090" shape-rendering="crispEdges"/>
<rect x="495" y="895" width="3" height="1" fill="#900090"/><rect x="503" y="895" width="3" height="1" fill="#900090"/>
<path d="M496 891h6v1h-6zM496 892h6v1h-6zM496 893h6v1h-6zM496 894h6v1h-6zM496 895h6v1h-6zM496 896h6v1h-6z" fill="#900090" shape-rendering="crispEdges"/>
<rect x="505" y="895" width="3" height="1" fill="#900090"/><rect x="513" y="895" width="3" height="1" fill="#900090"/>
<path d="M506 891h6v1h-6zM506 892h6v1h-6zM506 893h6v1h-6zM506 894h6v1h-6zM506 895h6v1h-6zM506 896h6v1h-6z" fill="#900090" shape-rendering="crispEdges"/>
<rect x="515" y="895" width="3" height="1" fill="#900090"/><rect x="523" y="895" width="3" height="1" fill="#900090"/>
<path d="M516 891h6v1h-6zM516 892h6v1h-6zM516 893h6v1h-6zM516 894h6v1h-6zM516 895h6v1h-6zM516 896h6v1h-6z" fill="#900090" shape-rendering="crispEdges"/>
<rect x="525" y="895" width="3" height="1" fill="#900090"/><rect x="533" y="895" width="3" height="1" fill="#900090"/>
<path d="M526 891h6v1h-6zM526 892h6v1h-6zM526 893h6v1h-6zM526 894h6v1h-6zM526 895h6v1h-6zM526 896h6v1h-6z" fill="#900090" shape-rendering="crispEdges"/>
<rect x="535" y="893" width="4" height="1" fill="#900090"/><rect x="544" y="893" width="3" height="1" fill="#900090"/>
<path d="M537 889h6v1h-6zM537 890h6v1h-6zM537 891h6v1h-6zM537 892h6v1h-6zM537 893h6v1h-6zM537 894h6v1h-6z" fill="#900090" shape-rendering="crispEdges"/>
<rect x="546" y="892" width="3" height="1" fill="#900090"/><rect x="554" y="892" width="3" height="1" fill="#900090"/>
<path d="M547 888h6v1h-6zM547 889h6v1h-6zM547 890h6v1h-6zM547 891h6v1h-6zM547 892h6v1h-6zM547 893h6v1h-6z" fill="#900090" shape-rendering="crispEdges"/>
<rect x="556" y="892" width="3" height="1" fill="#900090"/><rect x="564" y="892" width="3" height="1" fill="#900090"/>
<path d="M557 888h6v1h-6zM557 889h6v1h-6zM557 890h6v1h-6zM557 891h6v1h-6zM557 892h6v1h-6zM557 893h6v1h-6z" fill="#900090" shape-rendering="crispEdges"/>
<rect x="566" y="891" width="3" height="1" fill="#900090"/><rect x="574" y="891" width="3" height="1" fill="#900090"/>
<path d="M567 887h6v1h-6zM567 888h6v1h-6zM567 889h6v1h-6zM567 890h6v1h-6zM567 891h6v1h-6zM567 892h6v1h-6z" fill="#900090" shape-rendering="crispEdges"/>
<rect x="576" y="886" width="3" height="1" fill="#900090"/><rect x="584" y="886" width="3" height="1" fill="#900090"/>
<path d="M577 882h6v1h-6zM577 883h6v1h-6zM577 884h6v1h-6zM577 885h6v1h-6zM577 886h6v1h-6zM577 887h6v1h-6z" fill="#900090" shape-rendering="crispEdges"/>
<rect x="586" y="880" width="4" height="1" fill="#900090"/><rect x="595" y="880" width="3" height="1" fill="#900090"/>
<path d="M588 876h6v1h-6zM588 877h6v1h-6zM588 878h6v1h-6zM588 879h6v1h-6zM588 880h6v1h-6zM588 881h6v1h-6z" fill="#900090" shape-rendering="crispEdges"/>
<rect x="597" y="869" width="3" height="1" fill="#900090"/><rect x="605" y="869" width="3" height="1" fill="#900090"/>
<path d="M598 865h6v1h-6zM598 866h6v1h-6zM598 867h6v1h-6zM598 868h6v1h-6zM598 869h6v1h-6zM598 870h6v1h-6z" fill="#900090" shape-rendering="crispEdges"/>
<rect x="607" y="855" width="3" height="1" fill="#900090"/><rect x="615" y="855" width="3" height="1" fill="#900090"/>
<path d="M608 851h6v1h-6zM608 852h6v1h-6zM608 853h6v1h-6zM608 854h6v1h-6zM608 855h6v1h-6zM608 856h6v1h-6z" fill="#900090" shape-rendering="crispEdges"/>
<rect x="617" y="835" width="3" height="1" fill="#900090"/><rect x="625" y="835" width="3" height="1" fill="#900090"/>
<path d="M618 831h6v1h-6zM618 832h6v1h-6zM618 833h6v1h-6zM618 834h6v1h-6zM618 835h6v1h-6zM618 836h6v1h-6z" fill="#900090" shape-rendering="crispEdges"/>
<rect x="627" y="807" width="3" height="1" fill="#900090"/><rect x="635" y="807" width="4" height="1" fill="#900090"/>
<path d="M628 803h6v1h-6zM628 804h6v1h-6zM628 805h6v1h-6zM628 806h6v1h-6zM628 807h6v1h-6zM628 808h6v1h-6z" fill="#900090" shape-rendering="crispEdges"/>
<rect x="638" y="770" width="3" height="1" fill="#900090"/><rect x="646" y="770" width="3" height="1" fill="#900090"/>
<path d="M639 766h6v1h-6zM639 767h6v1h-6zM639 768h6v1h-6zM639 769h6v1h-6zM639 770h6v1h-6zM639 771h6v1h-6z" fill="#900090" shape-rendering="crispEdges"/>
<rect x="648" y="720" width="3" height="1" fill="#900090"/><rect x="656" y="720" width="3" height="1" fill="#900090"/>
<path d="M649 716h6v1h-6zM649 717h6v1h-6zM649 718h6v1h-6zM649 719h6v1h-6zM649 720h6v1h-6zM649 721h6v1h-6z" fill="#900090" shape-rendering="crispEdges"/>
<rect x="658" y="649" width="3" height="1" fill="#900090"/><rect x="666" y="649" width="3" height="1" fill="#900090"/>
<path d="M659 645h6v1h-6zM659 646h6v1h-6zM659 647h6v1h-6zM659 648h6v1h-6zM659 649h6v1h-6zM659 650h6v1h-6z" fill="#900090" shape-rendering="crispEdges"/>
<rect x="668" y="517" width="3" height="1" fill="#900090"/><rect x="676" y="517" width="3" height="1" fill="#900090"/>
<path d="M669 513h6v1h-6zM669 514h6v1h-6zM669 515h6v1h-6zM669 516h6v1h-6zM669 517h6v1h-6zM669 518h6v1h-6z" fill="#900090" shape-rendering="crispEdges"/>
<rect x="678" y="242" width="3" height="1" fill="#900090"/><rect x="686" y="242" width="4" height="1" fill="#900090"/>
<path d="M679 238h6v1h-6zM679 239h6v1h-6zM679 240h6v1h-6zM679 241h6v1h-6zM679 242h6v1h-6zM679 243h6v1h-6z" fill="#900090" shape-rendering="crispEdges"/>
<rect x="689" y="267" width="3" height="1" fill="#900090"/><rect x="697" y="267" width="3" height="1" fill="#900090"/>
<path d="M690 263h6v1h-6zM690 264h6v1h-6zM690 265h6v1h-6zM690 266h6v1h-6zM690 267h6v1h-6zM690 268h6v1h-6z" fill="#900090" shape-rendering="crispEdges"/>
<rect x="699" y="661" width="3" height="1" fill="#900090"/><rect x="707" y="661" width="3" height="1" fill="#900090"/>
<path d="M700 657h6v1h-6zM700 658h6v1h-6zM700 659h6v1h-6zM700 660h6v1h-6zM700 661h6v1h-6zM700 662h6v1h-6z" fill="#900090" shape-rendering="crispEdges"/>
<rect x="709" y="784" width="3" height="1" fill="#900090"/><rect x="717" y="784" width="3" height="1" fill="#900090"/>
<path d="M710 780h6v1h-6zM710 781h6v1h-6zM710 782h6v1h-6zM710 783h6v1h-6zM710 784h6v1h-6zM710 785h6v1h-6z" fill="#900090" shape-rendering="crispEdges"/>
<rect x="719" y="841" width="3" height="1" fill="#900090"/><rect x="727" y="841" width="3" height="1" fill="#900090"/>
<path d="M720 837h6v1h-6zM720 838h6v1h-6zM720 839h6v1h-6zM720 840h6v1h-6zM720 841h6v1h-6zM720 842h6v1h-6z" fill="#900090" shape-rendering="crispEdges"/>
<rect x="729" y="870" width="3" height="1" fill="#900090"/><rect x="737" y="870" width="4" height="1" fill="#900090"/>
<path d="M730 866h6v1h-6zM730 867h6v1h-6zM730 868h6v1h-6zM730 869h6v1h-6zM730 870h6v1h-6zM730 871h6v1h-6z" fill="#900090" shape-rendering="crispEdges"/>
<rect x="740" y="883" width="3" height="1" fill="#900090"/><rect x="748" y="883" width="3" height="1" fill="#900090"/>
<path d="M741 879h6v1h-6zM741 880h6v1h-6zM741 881h6v1h-6zM741 882h6v1h-6zM741 883h6v1h-6zM741 884h6v1h-6z" fill="#900090" shape-rendering="crispEdges"/>
<rect x="750" y="888" width="3" height="1" fill="#900090"/><rect x="758" y="888" width="3" height="1" fill="#900090"/>
<path d="M751 884h6v1h-6zM751 885h6v1h-6zM751 886h6v1h-6zM751 887h6v1h-6zM751 888h6v1h-6zM751 889h6v1h-6z" fill="#900090" shape-rendering="crispEdges"/>
<rect x="760" y="892" width="3" height="1" fill="#900090"/><rect x="768" y="892" width="3" height="1" fill="#900090"/>
<path d="M761 888h6v1h-6zM761 889h6v1h-6zM761 890h6v1h-6zM761 891h6v1h-6zM761 892h6v1h-6zM761 893h6v1h-6z" fill="#900090" shape-rendering="crispEdges"/>
<rect x="770" y="893" width="3" height="1" fill="#900090"/><rect x="778" y="893" width="3" height="1" fill="#900090"/>
<path d="M771 889h6v1h-6zM771 890h6v1h-6zM771 891h6v1h-6zM771 892h6v1h-6zM771 893h6v1h-6zM771 894h6v1h-6z" fill="#900090" shape-rendering="crispEdges"/>
<rect x="780" y="895" width="4" height="1" fill="#900090"/><rect x="789" y="895" width="3" height="1" fill="#900090"/>
<path d="M782 891h6v1h-6zM782 892h6v1h-6zM782 893h6v1h-6zM782 894h6v1h-6zM782 895h6v1h-6zM782 896h6v1h-6z" fill="#900090" shape-rendering="crispEdges"/>
<rect x="791" y="895" width="3" height="1" fill="#900090"/><rect x="799" y="895" width="3" height="1" fill="#900090"/>
<path d="M792 891h6v1h-6zM792 892h6v1h-6zM792 893h6v1h-6zM792 894h6v1h-6zM792 895h6v1h-6zM792 896h6v1h-6z" fill="#900090" shape-rendering="crispEdges"/>
<rect x="801" y="896" width="3" height="1" fill="#900090"/><rect x="809" y="896" width="3" height="1" fill="#900090"/>
<path d="M802 892h6v1h-6zM802 893h6v1h-6zM802 894h6v1h-6zM802 895h6v1h-6zM802 896h6v1h-6zM802 897h6v1h-6z" fill="#900090" shape-rendering="crispEdges"/>
<rect x="811" y="896" width="3" height="1" fill="#900090"/><rect x="819" y="896" width="3" height="1" fill="#900090"/>
<path d="M812 892h6v1h-6zM812 893h6v1h-6zM812 894h6v1h-6zM812 895h6v1h-6zM812 896h6v1h-6zM812 897h6v1h-6z" fill="#900090" shape-rendering="crispEdges"/>
<rect x="821" y="896" width="3" height="1" fill="#900090"/><rect x="829" y="896" width="3" height="1" fill="#900090"/>
<path d="M822 892h6v1h-6zM822 893h6v1h-6zM822 894h6v1h-6zM822 895h6v1h-6zM822 896h6v1h-6zM822 897h6v1h-6z" fill="#900090" shape-rendering="crispEdges"/>
<rect x="831" y="896" width="4" height="1" fill="#900090"/><rect x="840" y="896" width="3" height="1" fill="#900090"/>
<path d="M833 892h6v1h-6zM833 893h6v1h-6zM833 894h6v1h-6zM833 895h6v1h-6zM833 896h6v1h-6zM833 897h6v1h-6z" fill="#900090" shape-rendering="crispEdges"/>
<rect x="842" y="896" width="3" height="1" fill="#900090"/><rect x="850" y="896" width="3" height="1" fill="#900090"/>
<path d="M843 892h6v1h-6zM843 893h6v1h-6zM843 894h6v1h-6zM843 895h6v1h-6zM843 896h6v1h-6zM843 897h6v1h-6z" fill="#900090" shape-rendering="crispEdges"/>
<rect x="852" y="896" width="3" height="1" fill="#900090"/><rect x="860" y="896" width="3" height="1" fill="#900090"/>
<path d="M853 892h6v1h-6zM853 893h6v1h-6zM853 894h6v1h-6zM853 895h6v1h-6zM853 896h6v1h-6zM853 897h6v1h-6z" fill="#900090" shape-rendering="crispEdges"/>
<rect x="862" y="896" width="3" height="1" fill="#900090"/><rect x="870" y="896" width="3" height="1" fill="#900090"/>
<path d="M863 892h6v1h-6zM863 893h6v1h-6zM863 894h6v1h-6zM863 895h6v1h-6zM863 896h6v1h-6zM863 897h6v1h-6z" fill="#900090" shape-rendering="crispEdges"/>
<rect x="872" y="896" width="3" height="1" fill="#900090"/><rect x="880" y="896" width="4" height="1" fill="#900090"/>
<path d="M873 892h6v1h-6zM873 893h6v1h-6zM873 894h6v1h-6zM873 895h6v1h-6zM873 896h6v1h-6zM873 897h6v1h-6z" fill="#900090" shape-rendering="crispEdges"/>
<rect x="883" y="896" width="3" height="1" fill="#900090"/><rect x="891" y="896" width="3" height="1" fill="#900090"/>
<path d="M884 892h6v1h-6zM884 893h6v1h-6zM884 894h6v1h-6zM884 895h6v1h-6zM884 896h6v1h-6zM884 897h6v1h-6z" fill="#900090" shape-rendering="crispEdges"/></g>
<g shape-rendering="crispEdges"><rect x="301" y="896" width="3" height="1" fill="#000000"/><rect x="309" y="896" width="3" height="1" fill="#000000"/>
<path d="M306 893h1v1h-1zM305 894h2v1h-2zM304 895h4v1h-4zM304 896h4v1h-4zM304 897h4v1h-4zM305 898h2v1h-2z" fill="#000000" shape-rendering="crispEdges"/>
<rect x="311" y="896" width="3" height="1" fill="#000000"/><rect x="319" y="896" width="3" height="1" fill="#000000"/>
<path d="M316 893h1v1h-1zM315 894h2v1h-2zM314 895h4v1h-4zM314 896h4v1h-4zM314 897h4v1h-4zM315 898h2v1h-2z" fill="#000000" shape-rendering="crispEdges"/>
<rect x="341" y="896" width="4" height="1" fill="#000000"/><rect x="350" y="896" width="3" height="1" fill="#000000"/>
<path d="M347 893h1v1h-1zM346 894h2v1h-2zM345 895h4v1h-4zM345 896h4v1h-4zM345 897h4v1h-4zM346 898h2v1h-2z" fill="#000000" shape-rendering="crispEdges"/>
<rect x="372" y="896" width="3" height="1" fill="#000000"/><rect x="380" y="896" width="3" height="1" fill="#000000"/>
<path d="M377 893h1v1h-1zM376 894h2v1h-2zM375 895h4v1h-4zM375 896h4v1h-4zM375 897h4v1h-4zM376 898h2v1h-2z" fill="#000000" shape-rendering="crispEdges"/>
<rect x="392" y="896" width="4" height="1" fill="#000000"/><rect x="401" y="896" width="3" height="1" fill="#000000"/>
<path d="M398 893h1v1h-1zM397 894h2v1h-2zM396 895h4v1h-4zM396 896h4v1h-4zM396 897h4v1h-4zM397 898h2v1h-2z" fill="#000000" shape-rendering="crispEdges"/>
<rect x="413" y="896" width="3" height="1" fill="#000000"/><rect x="421" y="896" width="3" height="1" fill="#000000"/>
<path d="M418 893h1v1h-1zM417 894h2v1h-2zM416 895h4v1h-4zM416 896h4v1h-4zM416 897h4v1h-4zM417 898h2v1h-2z" fill="#000000" shape-rendering="crispEdges"/>
<rect x="433" y="896" width="3" height="1" fill="#000000"/><rect x="441" y="896" width="4" height="1" fill="#000000"/>
<path d="M438 893h1v1h-1zM437 894h2v1h-2zM436 895h4v1h-4zM436 896h4v1h-4zM436 897h4v1h-4zM437 898h2v1h-2z" fill="#000000" shape-rendering="crispEdges"/>
<rect x="454" y="896" width="3" height="1" fill="#000000"/><rect x="462" y="896" width="3" height="1" fill="#000000"/>
<path d="M459 893h1v1h-1zM458 894h2v1h-2zM457 895h4v1h-4zM457 896h4v1h-4zM457 897h4v1h-4zM458 898h2v1h-2z" fill="#000000" shape-rendering="crispEdges"/>
<rect x="474" y="895" width="3" height="1" fill="#000000"/><rect x="482" y="895" width="3" height="1" fill="#000000"/>
<path d="M479 892h1v1h-1zM478 893h2v1h-2zM477 894h4v1h-4zM477 895h4v1h-4zM477 896h4v1h-4zM478 897h2v1h-2z" fill="#000000" shape-rendering="crispEdges"/>
<rect x="484" y="894" width="3" height="1" fill="#000000"/><rect x="492" y="894" width="4" height="1" fill="#000000"/>
<path d="M489 891h1v1h-1zM488 892h2v1h-2zM487 893h4v1h-4zM487 894h4v1h-4zM487 895h4v1h-4zM488 896h2v1h-2z" fill="#000000" shape-rendering="crispEdges"/>
<rect x="495" y="894" width="3" height="1" fill="#000000"/><rect x="503" y="894" width="3" height="1" fill="#000000"/>
<path d="M500 891h1v1h-1zM499 892h2v1h-2zM498 893h4v1h-4zM498 894h4v1h-4zM498 895h4v1h-4zM499 896h2v1h-2z" fill="#000000" shape-rendering="crispEdges"/>
<rect x="505" y="893" width="3" height="1" fill="#000000"/><rect x="513" y="893" width="3" height="1" fill="#000000"/>
<path d="M510 890h1v1h-1zM509 891h2v1h-2zM508 892h4v1h-4zM508 893h4v1h-4zM508 894h4v1h-4zM509 895h2v1h-2z" fill="#000000" shape-rendering="crispEdges"/>
<rect x="515" y="893" width="3" height="1" fill="#000000"/><rect x="523" y="893" width="3" height="1" fill="#000000"/>
<path d="M520 890h1v1h-1zM519 891h2v1h-2zM518 892h4v1h-4zM518 893h4v1h-4zM518 894h4v1h-4zM519 895h2v1h-2z" fill="#000000" shape-rendering="crispEdges"/>
<rect x="525" y="893" width="3" height="1" fill="#000000"/><rect x="533" y="893" width="3" height="1" fill="#000000"/>
<path d="M530 890h1v1h-1zM529 891h2v1h-2zM528 892h4v1h-4zM528 893h4v1h-4zM528 894h4v1h-4zM529 895h2v1h-2z" fill="#000000" shape-rendering="crispEdges"/>
<rect x="535" y="894" width="4" height="1" fill="#000000"/><rect x="544" y="894" width="3" height="1" fill="#000000"/>
<path d="M541 891h1v1h-1zM540 892h2v1h-2zM539 893h4v1h-4zM539 894h4v1h-4zM539 895h4v1h-4zM540 896h2v1h-2z" fill="#000000" shape-rendering="crispEdges"/>
<rect x="546" y="892" width="3" height="1" fill="#000000"/><rect x="554" y="892" width="3" height="1" fill="#000000"/>
<path d="M551 889h1v1h-1zM550 890h2v1h-2zM549 891h4v1h-4zM549 892h4v1h-4zM549 893h4v1h-4zM550 894h2v1h-2z" fill="#000000" shape-rendering="crispEdges"/>
<rect x="556" y="891" width="3" height="1" fill="#000000"/><rect x="564" y="891" width="3" height="1" fill="#000000"/>
<path d="M561 888h1v1h-1zM560 889h2v1h-2zM559 890h4v1h-4zM559 891h4v1h-4zM559 892h4v1h-4zM560 893h2v1h-2z" fill="#000000" shape-rendering="crispEdges"/>
<rect x="566" y="888" width="3" height="1" fill="#000000"/><rect x="574" y="888" width="3" height="1" fill="#000000"/>
<path d="M571 885h1v1h-1zM570 886h2v1h-2zM569 887h4v1h-4zM569 888h4v1h-4zM569 889h4v1h-4zM570 890h2v1h-2z" fill="#000000" shape-rendering="crispEdges"/>
<rect x="576" y="883" width="3" height="1" fill="#000000"/><rect x="584" y="883" width="3" height="1" fill="#000000"/>
<path d="M581 880h1v1h-1zM580 881h2v1h-2zM579 882h4v1h-4zM579 883h4v1h-4zM579 884h4v1h-4zM580 885h2v1h-2z" fill="#000000" shape-rendering="crispEdges"/>
<rect x="586" y="874" width="4" height="1" fill="#000000"/><rect x="595" y="874" width="3" height="1" fill="#000000"/>
<path d="M592 871h1v1h-1zM591 872h2v1h-2zM590 873h4v1h-4zM590 874h4v1h-4zM590 875h4v1h-4zM591 876h2v1h-2z" fill="#000000" shape-rendering="crispEdges"/>
<rect x="597" y="862" width="3" height="1" fill="#000000"/><rect x="605" y="862" width="3" height="1" fill="#000000"/>
<path d="M602 859h1v1h-1zM601 860h2v1h-2zM600 861h4v1h-4zM600 862h4v1h-4zM600 863h4v1h-4zM601 864h2v1h-2z" fill="#000000" shape-rendering="crispEdges"/>
<rect x="607" y="843" width="3" height="1" fill="#000000"/><rect x="615" y="843" width="3" height="1" fill="#000000"/>
<path d="M612 840h1v1h-1zM611 841h2v1h-2zM610 842h4v1h-4zM610 843h4v1h-4zM610 844h4v1h-4zM611 845h2v1h-2z" fill="#000000" shape-rendering="crispEdges"/>
<rect x="617" y="818" width="3" height="1" fill="#000000"/><rect x="625" y="818" width="3" height="1" fill="#000000"/>
<path d="M622 815h1v1h-1zM621 816h2v1h-2zM620 817h4v1h-4zM620 818h4v1h-4zM620 819h4v1h-4zM621 820h2v1h-2z" fill="#000000" shape-rendering="crispEdges"/>
<rect x="627" y="786" width="3" height="1" fill="#000000"/><rect x="635" y="786" width="4" height="1" fill="#000000"/>
<path d="M632 783h1v1h-1zM631 784h2v1h-2zM630 785h4v1h-4zM630 786h4v1h-4zM630 787h4v1h-4zM631 788h2v1h-2z" fill="#000000" shape-rendering="crispEdges"/>
<rect x="638" y="745" width="3" height="1" fill="#000000"/><rect x="646" y="745" width="3" height="1" fill="#000000"/>
<path d="M643 742h1v1h-1zM642 743h2v1h-2zM641 744h4v1h-4zM641 745h4v1h-4zM641 746h4v1h-4zM642 747h2v1h-2z" fill="#000000" shape-rendering="crispEdges"/>
<rect x="648" y="693" width="3" height="1" fill="#000000"/><rect x="656" y="693" width="3" height="1" fill="#000000"/>
<path d="M653 690h1v1h-1zM652 691h2v1h-2zM651 692h4v1h-4zM651 693h4v1h-4zM651 694h4v1h-4zM652 695h2v1h-2z" fill="#000000" shape-rendering="crispEdges"/>
<rect x="658" y="628" width="3" height="1" fill="#000000"/><rect x="666" y="628" width="3" height="1" fill="#000000"/>
<path d="M663 625h1v1h-1zM662 626h2v1h-2zM661 627h4v1h-4zM661 628h4v1h-4zM661 629h4v1h-4zM662 630h2v1h-2z" fill="#000000" shape-rendering="crispEdges"/>
<rect x="668" y="537" width="3" height="1" fill="#000000"/><rect x="676" y="537" width="3" height="1" fill="#000000"/>
<path d="M673 534h1v1h-1zM672 535h2v1h-2zM671 536h4v1h-4zM671 537h4v1h-4zM671 538h4v1h-4zM672 539h2v1h-2z" fill="#000000" shape-rendering="crispEdges"/>
<rect x="678" y="390" width="3" height="1" fill="#000000"/><rect x="686" y="390" width="4" height="1" fill="#000000"/>
<path d="M683 387h1v1h-1zM682 388h2v1h-2zM681 389h4v1h-4zM681 390h4v1h-4zM681 391h4v1h-4zM682 392h2v1h-2z" fill="#000000" shape-rendering="crispEdges"/>
<rect x="689" y="400" width="3" height="1" fill="#000000"/><rect x="697" y="400" width="3" height="1" fill="#000000"/>
<path d="M694 397h1v1h-1zM693 398h2v1h-2zM692 399h4v1h-4zM692 400h4v1h-4zM692 401h4v1h-4zM693 402h2v1h-2z" fill="#000000" shape-rendering="crispEdges"/>
<rect x="699" y="654" width="3" height="1" fill="#000000"/><rect x="707" y="654" width="3" height="1" fill="#000000"/>
<path d="M704 651h1v1h-1zM703 652h2v1h-2zM702 653h4v1h-4zM702 654h4v1h-4zM702 655h4v1h-4zM703 656h2v1h-2z" fill="#000000" shape-rendering="crispEdges"/>
<rect x="709" y="756" width="3" height="1" fill="#000000"/><rect x="717" y="756" width="3" height="1" fill="#000000"/>
<path d="M714 753h1v1h-1zM713 754h2v1h-2zM712 755h4v1h-4zM712 756h4v1h-4zM712 757h4v1h-4zM713 758h2v1h-2z" fill="#000000" shape-rendering="crispEdges"/>
<rect x="719" y="813" width="3" height="1" fill="#000000"/><rect x="727" y="813" width="3" height="1" fill="#000000"/>
<path d="M724 810h1v1h-1zM723 811h2v1h-2zM722 812h4v1h-4zM722 813h4v1h-4zM722 814h4v1h-4zM723 815h2v1h-2z" fill="#000000" shape-rendering="crispEdges"/>
<rect x="729" y="846" width="3" height="1" fill="#000000"/><rect x="737" y="846" width="4" height="1" fill="#000000"/>
<path d="M734 843h1v1h-1zM733 844h2v1h-2zM732 845h4v1h-4zM732 846h4v1h-4zM732 847h4v1h-4zM733 848h2v1h-2z" fill="#000000" shape-rendering="crispEdges"/>
<rect x="740" y="865" width="3" height="1" fill="#000000"/><rect x="748" y="865" width="3" height="1" fill="#000000"/>
<path d="M745 862h1v1h-1zM744 863h2v1h-2zM743 864h4v1h-4zM743 865h4v1h-4zM743 866h4v1h-4zM744 867h2v1h-2z" fill="#000000" shape-rendering="crispEdges"/>
<rect x="750" y="877" width="3" height="1" fill="#000000"/><rect x="758" y="877" width="3" height="1" fill="#000000"/>
<path d="M755 874h1v1h-1zM754 875h2v1h-2zM753 876h4v1h-4zM753 877h4v1h-4zM753 878h4v1h-4zM754 879h2v1h-2z" fill="#000000" shape-rendering="crispEdges"/>
<rect x="760" y="883" width="3" height="1" fill="#000000"/><rect x="768" y="883" width="3" height="1" fill="#000000"/>
<path d="M765 880h1v1h-1zM764 881h2v1h-2zM763 882h4v1h-4zM763 883h4v1h-4zM763 884h4v1h-4zM764 885h2v1h-2z" fill="#000000" shape-rendering="crispEdges"/>
<rect x="770" y="887" width="3" height="1" fill="#000000"/><rect x="778" y="887" width="3" height="1" fill="#000000"/>
<path d="M775 884h1v1h-1zM774 885h2v1h-2zM773 886h4v1h-4zM773 887h4v1h-4zM773 888h4v1h-4zM774 889h2v1h-2z" fill="#000000" shape-rendering="crispEdges"/>
<rect x="780" y="890" width="4" height="1" fill="#000000"/><rect x="789" y="890" width="3" height="1" fill="#000000"/>
<path d="M786 887h1v1h-1zM785 888h2v1h-2zM784 889h4v1h-4zM784 890h4v1h-4zM784 891h4v1h-4zM785 892h2v1h-2z" fill="#000000" shape-rendering="crispEdges"/>
<rect x="791" y="891" width="3" height="1" fill="#000000"/><rect x="799" y="891" width="3" height="1" fill="#000000"/>
<path d="M796 888h1v1h-1zM795 889h2v1h-2zM794 890h4v1h-4zM794 891h4v1h-4zM794 892h4v1h-4zM795 893h2v1h-2z" fill="#000000" shape-rendering="crispEdges"/>
<rect x="801" y="892" width="3" height="1" fill="#000000"/><rect x="809" y="892" width="3" height="1" fill="#000000"/>
<path d="M806 889h1v1h-1zM805 890h2v1h-2zM804 891h4v1h-4zM804 892h4v1h-4zM804 893h4v1h-4zM805 894h2v1h-2z" fill="#000000" shape-rendering="crispEdges"/>
<rect x="811" y="893" width="3" height="1" fill="#000000"/><rect x="819" y="893" width="3" height="1" fill="#000000"/>
<path d="M816 890h1v1h-1zM815 891h2v1h-2zM814 892h4v1h-4zM814 893h4v1h-4zM814 894h4v1h-4zM815 895h2v1h-2z" fill="#000000" shape-rendering="crispEdges"/>
<rect x="821" y="894" width="3" height="1" fill="#000000"/><rect x="829" y="894" width="3" height="1" fill="#000000"/>
<path d="M826 891h1v1h-1zM825 892h2v1h-2zM824 893h4v1h-4zM824 894h4v1h-4zM824 895h4v1h-4zM825 896h2v1h-2z" fill="#000000" shape-rendering="crispEdges"/>
<rect x="831" y="894" width="4" height="1" fill="#000000"/><rect x="840" y="894" width="3" height="1" fill="#000000"/>
<path d="M837 891h1v1h-1zM836 892h2v1h-2zM835 893h4v1h-4zM835 894h4v1h-4zM835 895h4v1h-4zM836 896h2v1h-2z" fill="#000000" shape-rendering="crispEdges"/>
<rect x="842" y="895" width="3" height="1" fill="#000000"/><rect x="850" y="895" width="3" height="1" fill="#000000"/>
<path d="M847 892h1v1h-1zM846 893h2v1h-2zM845 894h4v1h-4zM845 895h4v1h-4zM845 896h4v1h-4zM846 897h2v1h-2z" fill="#000000" shape-rendering="crispEdges"/>
<rect x="852" y="895" width="3" height="1" fill="#000000"/><rect x="860" y="895" width="3" height="1" fill="#000000"/>
<path d="M857 892h1v1h-1zM856 893h2v1h-2zM855 894h4v1h-4zM855 895h4v1h-4zM855 896h4v1h-4zM856 897h2v1h-2z" fill="#000000" shape-rendering="crispEdges"/>
<rect x="862" y="895" width="3" height="1" fill="#000000"/><rect x="870" y="895" width="3" height="1" fill="#000000"/>
<path d="M867 892h1v1h-1zM866 893h2v1h-2zM865 894h4v1h-4zM865 895h4v1h-4zM865 896h4v1h-4zM866 897h2v1h-2z" fill="#000000" shape-rendering="crispEdges"/>
<rect x="872" y="895" width="3" height="1" fill="#000000"/><rect x="880" y="895" width="4" height="1" fill="#000000"/>
<path d="M877 892h1v1h-1zM876 893h2v1h-2zM875 894h4v1h-4zM875 895h4v1h-4zM875 896h4v1h-4zM876 897h2v1h-2z" fill="#000000" shape-rendering="crispEdges"/>
<rect x="883" y="896" width="3" height="1" fill="#000000"/><rect x="891" y="896" width="3" height="1" fill="#000000"/>
<path d="M888 893h1v1h-1zM887 894h2v1h-2zM886 895h4v1h-4zM886 896h4v1h-4zM886 897h4v1h-4zM887 898h2v1h-2z" fill="#000000" shape-rendering="crispEdges"/>
<rect x="893" y="896" width="3" height="1" fill="#000000"/><rect x="901" y="896" width="3" height="1" fill="#000000"/>
<path d="M898 893h1v1h-1zM897 894h2v1h-2zM896 895h4v1h-4zM896 896h4v1h-4zM896 897h4v1h-4zM897 898h2v1h-2z" fill="#000000" shape-rendering="crispEdges"/>
<rect x="903" y="896" width="3" height="1" fill="#000000"/><rect x="911" y="896" width="3" height="1" fill="#000000"/>
<path d="M908 893h1v1h-1zM907 894h2v1h-2zM906 895h4v1h-4zM906 896h4v1h-4zM906 897h4v1h-4zM907 898h2v1h-2z" fill="#000000" shape-rendering="crispEdges"/>
<rect x="913" y="896" width="3" height="1" fill="#000000"/><rect x="921" y="896" width="3" height="1" fill="#000000"/>
<path d="M918 893h1v1h-1zM917 894h2v1h-2zM916 895h4v1h-4zM916 896h4v1h-4zM916 897h4v1h-4zM917 898h2v1h-2z" fill="#000000" shape-rendering="crispEdges"/>
<rect x="923" y="896" width="3" height="1" fill="#000000"/><rect x="931" y="896" width="4" height="1" fill="#000000"/>
<path d="M928 893h1v1h-1zM927 894h2v1h-2zM926 895h4v1h-4zM926 896h4v1h-4zM926 897h4v1h-4zM927 898h2v1h-2z" fill="#000000" shape-rendering="crispEdges"/>
<rect x="934" y="896" width="3" height="1" fill="#000000"/><rect x="942" y="896" width="3" height="1" fill="#000000"/>
<path d="M939 893h1v1h-1zM938 894h2v1h-2zM937 895h4v1h-4zM937 896h4v1h-4zM937 897h4v1h-4zM938 898h2v1h-2z" fill="#000000" shape-rendering="crispEdges"/>
<rect x="944" y="896" width="3" height="1" fill="#000000"/><rect x="952" y="896" width="3" height="1" fill="#000000"/>
<path d="M949 893h1v1h-1zM948 894h2v1h-2zM947 895h4v1h-4zM947 896h4v1h-4zM947 897h4v1h-4zM948 898h2v1h-2z" fill="#000000" shape-rendering="crispEdges"/>
<rect x="954" y="896" width="3" height="1" fill="#000000"/><rect x="962" y="896" width="3" height="1" fill="#000000"/>
<path d="M959 893h1v1h-1zM958 894h2v1h-2zM957 895h4v1h-4zM957 896h4v1h-4zM957 897h4v1h-4zM958 898h2v1h-2z" fill="#000000" shape-rendering="crispEdges"/>
<rect x="964" y="896" width="3" height="1" fill="#000000"/><rect x="972" y="896" width="3" height="1" fill="#000000"/>
<path d="M969 893h1v1h-1zM968 894h2v1h-2zM967 895h4v1h-4zM967 896h4v1h-4zM967 897h4v1h-4zM968 898h2v1h-2z" fill="#000000" shape-rendering="crispEdges"/>
<rect x="974" y="896" width="4" height="1" fill="#000000"/><rect x="983" y="896" width="3" height="1" fill="#000000"/>
<path d="M980 893h1v1h-1zM979 894h2v1h-2zM978 895h4v1h-4zM978 896h4v1h-4zM978 897h4v1h-4zM979 898h2v1h-2z" fill="#000000" shape-rendering="crispEdges"/>
<rect x="985" y="896" width="3" height="1" fill="#000000"/><rect x="993" y="896" width="3" height="1" fill="#000000"/>
<path d="M990 893h1v1h-1zM989 894h2v1h-2zM988 895h4v1h-4zM988 896h4v1h-4zM988 897h4v1h-4zM989 898h2v1h-2z" fill="#000000" shape-rendering="crispEdges"/>
<rect x="995" y="896" width="3" height="1" fill="#000000"/><rect x="1003" y="896" width="3" height="1" fill="#000000"/>
<path d="M1000 893h1v1h-1zM999 894h2v1h-2zM998 895h4v1h-4zM998 896h4v1h-4zM998 897h4v1h-4zM999 898h2v1h-2z" fill="#000000" shape-rendering="crispEdges"/>
<rect x="1005" y="896" width="3" height="1" fill="#000000"/><rect x="1013" y="896" width="3" height="1" fill="#000000"/>
<path d="M1010 893h1v1h-1zM1009 894h2v1h-2zM1008 895h4v1h-4zM1008 896h4v1h-4zM1008 897h4v1h-4zM1009 898h2v1h-2z" fill="#000000" shape-rendering="crispEdges"/>
<rect x="1015" y="896" width="3" height="1" fill="#000000"/><rect x="1023" y="896" width="3" height="1" fill="#000000"/>
<path d="M1020 893h1v1h-1zM1019 894h2v1h-2zM1018 895h4v1h-4zM1018 896h4v1h-4zM1018 897h4v1h-4zM1019 898h2v1h-2z" fill="#000000" shape-rendering="crispEdges"/>
<rect x="1025" y="896" width="4" height="1" fill="#000000"/><rect x="1034" y="896" width="3" height="1" fill="#000000"/>
<path d="M1031 893h1v1h-1zM1030 894h2v1h-2zM1029 895h4v1h-4zM1029 896h4v1h-4zM1029 897h4v1h-4zM1030 898h2v1h-2z" fill="#000000" shape-rendering="crispEdges"/>
<rect x="1036" y="896" width="3" height="1" fill="#000000"/><rect x="1044" y="896" width="3" height="1" fill="#000000"/>
<path d="M1041 893h1v1h-1zM1040 894h2v1h-2zM1039 895h4v1h-4zM1039 896h4v1h-4zM1039 897h4v1h-4zM1040 898h2v1h-2z" fill="#000000" shape-rendering="crispEdges"/>
<rect x="1046" y="896" width="3" height="1" fill="#000000"/><rect x="1054" y="896" width="3" height="1" fill="#000000"/>
<path d="M1051 893h1v1h-1zM1050 894h2v1h-2zM1049 895h4v1h-4zM1049 896h4v1h-4zM1049 897h4v1h-4zM1050 898h2v1h-2z" fill="#000000" shape-rendering="crispEdges"/>
<rect x="1056" y="896" width="3" height="1" fill="#000000"/><rect x="1064" y="896" width="3" height="1" fill="#000000"/>
<path d="M1061 893h1v1h-1zM1060 894h2v1h-2zM1059 895h4v1h-4zM1059 896h4v1h-4zM1059 897h4v1h-4zM1060 898h2v1h-2z" fill="#000000" shape-rendering="crispEdges"/>
<rect x="1066" y="896" width="3" height="1" fill="#000000"/><rect x="1074" y="896" width="4" height="1" fill="#000000"/>
<path d="M1071 893h1v1h-1zM1070 894h2v1h-2zM1069 895h4v1h-4zM1069 896h4v1h-4zM1069 897h4v1h-4zM1070 898h2v1h-2z" fill="#000000" shape-rendering="crispEdges"/>
<rect x="1077" y="896" width="3" height="1" fill="#000000"/><rect x="1085" y="896" width="3" height="1" fill="#000000"/>
<path d="M1082 893h1v1h-1zM1081 894h2v1h-2zM1080 895h4v1h-4zM1080 896h4v1h-4zM1080 897h4v1h-4zM1081 898h2v1h-2z" fill="#000000" shape-rendering="crispEdges"/>
<rect x="1097" y="896" width="3" height="1" fill="#000000"/><rect x="1105" y="896" width="3" height="1" fill="#000000"/>
<path d="M1102 893h1v1h-1zM1101 894h2v1h-2zM1100 895h4v1h-4zM1100 896h4v1h-4zM1100 897h4v1h-4zM1101 898h2v1h-2z" fill="#000000" shape-rendering="crispEdges"/>
<rect x="1107" y="896" width="3" height="1" fill="#000000"/><rect x="1115" y="896" width="3" height="1" fill="#000000"/>
<path d="M1112 893h1v1h-1zM1111 894h2v1h-2zM1110 895h4v1h-4zM1110 896h4v1h-4zM1110 897h4v1h-4zM1111 898h2v1h-2z" fill="#000000" shape-rendering="crispEdges"/>
<rect x="1117" y="896" width="3" height="1" fill="#000000"/><rect x="1125" y="896" width="4" height="1" fill="#000000"/>
<path d="M1122 893h1v1h-1zM1121 894h2v1h-2zM1120 895h4v1h-4zM1120 896h4v1h-4zM1120 897h4v1h-4zM1121 898h2v1h-2z" fill="#000000" shape-rendering="crispEdges"/>
<rect x="1128" y="896" width="3" height="1" fill="#000000"/><rect x="1136" y="896" width="3" height="1" fill="#000000"/>
<path d="M1133 893h1v1h-1zM1132 894h2v1h-2zM1131 895h4v1h-4zM1131 896h4v1h-4zM1131 897h4v1h-4zM1132 898h2v1h-2z" fill="#000000" shape-rendering="crispEdges"/>
<rect x="1138" y="896" width="3" height="1" fill="#000000"/><rect x="1146" y="896" width="3" height="1" fill="#000000"/>
<path d="M1143 893h1v1h-1zM1142 894h2v1h-2zM1141 895h4v1h-4zM1141 896h4v1h-4zM1141 897h4v1h-4zM1142 898h2v1h-2z" fill="#000000" shape-rendering="crispEdges"/></g>
<g shape-rendering="crispEdges"><rect x="280" y="896" width="3" height="1" fill="#0000ff"/><rect x="288" y="896" width="3" height="1" fill="#0000ff"/>
<rect x="285" y="892" width="1" height="7" fill="#0000ff" opacity="0.45"/>
<path d="M284.30 892.55L286.90 892.55L289.20 895.15L289.20 897.75L286.90 900.35L284.30 900.35L282.00 897.75L282.00 895.15Z" fill="#0000ff" shape-rendering="geometricPrecision"/>
<rect x="290" y="896" width="3" height="1" fill="#0000ff"/><rect x="298" y="896" width="4" height="1" fill="#0000ff"/>
<rect x="295" y="892" width="1" height="7" fill="#0000ff" opacity="0.45"/>
<path d="M294.30 892.55L296.90 892.55L299.20 895.15L299.20 897.75L296.90 900.35L294.30 900.35L292.00 897.75L292.00 895.15Z" fill="#0000ff" shape-rendering="geometricPrecision"/>
<rect x="321" y="896" width="3" height="1" fill="#0000ff"/><rect x="329" y="896" width="3" height="1" fill="#0000ff"/>
<rect x="326" y="892" width="1" height="7" fill="#0000ff" opacity="0.45"/>
<path d="M325.30 892.55L327.90 892.55L330.20 895.15L330.20 897.75L327.90 900.35L325.30 900.35L323.00 897.75L323.00 895.15Z" fill="#0000ff" shape-rendering="geometricPrecision"/>
<rect x="331" y="896" width="3" height="1" fill="#0000ff"/><rect x="339" y="896" width="3" height="1" fill="#0000ff"/>
<rect x="336" y="892" width="1" height="7" fill="#0000ff" opacity="0.45"/>
<path d="M335.30 892.55L337.90 892.55L340.20 895.15L340.20 897.75L337.90 900.35L335.30 900.35L333.00 897.75L333.00 895.15Z" fill="#0000ff" shape-rendering="geometricPrecision"/>
<rect x="352" y="896" width="3" height="1" fill="#0000ff"/><rect x="360" y="896" width="3" height="1" fill="#0000ff"/>
<rect x="357" y="892" width="1" height="7" fill="#0000ff" opacity="0.45"/>
<path d="M356.30 892.55L358.90 892.55L361.20 895.15L361.20 897.75L358.90 900.35L356.30 900.35L354.00 897.75L354.00 895.15Z" fill="#0000ff" shape-rendering="geometricPrecision"/>
<rect x="362" y="896" width="3" height="1" fill="#0000ff"/><rect x="370" y="896" width="3" height="1" fill="#0000ff"/>
<rect x="367" y="892" width="1" height="7" fill="#0000ff" opacity="0.45"/>
<path d="M366.30 892.55L368.90 892.55L371.20 895.15L371.20 897.75L368.90 900.35L366.30 900.35L364.00 897.75L364.00 895.15Z" fill="#0000ff" shape-rendering="geometricPrecision"/>
<rect x="372" y="896" width="3" height="1" fill="#0000ff"/><rect x="380" y="896" width="3" height="1" fill="#0000ff"/>
<rect x="377" y="892" width="1" height="7" fill="#0000ff" opacity="0.45"/>
<path d="M376.30 892.55L378.90 892.55L381.20 895.15L381.20 897.75L378.90 900.35L376.30 900.35L374.00 897.75L374.00 895.15Z" fill="#0000ff" shape-rendering="geometricPrecision"/>
<rect x="382" y="896" width="3" height="1" fill="#0000ff"/><rect x="390" y="896" width="3" height="1" fill="#0000ff"/>
<rect x="387" y="892" width="1" height="7" fill="#0000ff" opacity="0.45"/>
<path d="M386.30 892.55L388.90 892.55L391.20 895.15L391.20 897.75L388.90 900.35L386.30 900.35L384.00 897.75L384.00 895.15Z" fill="#0000ff" shape-rendering="geometricPrecision"/>
<rect x="392" y="896" width="4" height="1" fill="#0000ff"/><rect x="401" y="896" width="3" height="1" fill="#0000ff"/>
<rect x="398" y="892" width="1" height="7" fill="#0000ff" opacity="0.45"/>
<path d="M397.30 892.55L399.90 892.55L402.20 895.15L402.20 897.75L399.90 900.35L397.30 900.35L395.00 897.75L395.00 895.15Z" fill="#0000ff" shape-rendering="geometricPrecision"/>
<rect x="403" y="896" width="3" height="1" fill="#0000ff"/><rect x="411" y="896" width="3" height="1" fill="#0000ff"/>
<rect x="408" y="892" width="1" height="7" fill="#0000ff" opacity="0.45"/>
<path d="M407.30 892.55L409.90 892.55L412.20 895.15L412.20 897.75L409.90 900.35L407.30 900.35L405.00 897.75L405.00 895.15Z" fill="#0000ff" shape-rendering="geometricPrecision"/>
<rect x="413" y="896" width="3" height="1" fill="#0000ff"/><rect x="421" y="896" width="3" height="1" fill="#0000ff"/>
<rect x="418" y="892" width="1" height="7" fill="#0000ff" opacity="0.45"/>
<path d="M417.30 892.55L419.90 892.55L422.20 895.15L422.20 897.75L419.90 900.35L417.30 900.35L415.00 897.75L415.00 895.15Z" fill="#0000ff" shape-rendering="geometricPrecision"/>
<rect x="423" y="896" width="3" height="1" fill="#0000ff"/><rect x="431" y="896" width="3" height="1" fill="#0000ff"/>
<rect x="428" y="892" width="1" height="7" fill="#0000ff" opacity="0.45"/>
<path d="M427.30 892.55L429.90 892.55L432.20 895.15L432.20 897.75L429.90 900.35L427.30 900.35L425.00 897.75L425.00 895.15Z" fill="#0000ff" shape-rendering="geometricPrecision"/>
<rect x="433" y="896" width="3" height="1" fill="#0000ff"/><rect x="441" y="896" width="4" height="1" fill="#0000ff"/>
<rect x="438" y="892" width="1" height="7" fill="#0000ff" opacity="0.45"/>
<path d="M437.30 892.55L439.90 892.55L442.20 895.15L442.20 897.75L439.90 900.35L437.30 900.35L435.00 897.75L435.00 895.15Z" fill="#0000ff" shape-rendering="geometricPrecision"/>
<rect x="444" y="895" width="3" height="1" fill="#0000ff"/><rect x="452" y="895" width="3" height="1" fill="#0000ff"/>
<rect x="449" y="892" width="1" height="7" fill="#0000ff" opacity="0.45"/>
<path d="M448.30 891.55L450.90 891.55L453.20 894.15L453.20 896.75L450.90 899.35L448.30 899.35L446.00 896.75L446.00 894.15Z" fill="#0000ff" shape-rendering="geometricPrecision"/>
<rect x="454" y="895" width="3" height="1" fill="#0000ff"/><rect x="462" y="895" width="3" height="1" fill="#0000ff"/>
<rect x="459" y="892" width="1" height="7" fill="#0000ff" opacity="0.45"/>
<path d="M458.30 891.55L460.90 891.55L463.20 894.15L463.20 896.75L460.90 899.35L458.30 899.35L456.00 896.75L456.00 894.15Z" fill="#0000ff" shape-rendering="geometricPrecision"/>
<rect x="464" y="894" width="3" height="1" fill="#0000ff"/><rect x="472" y="894" width="3" height="1" fill="#0000ff"/>
<rect x="469" y="891" width="1" height="7" fill="#0000ff" opacity="0.45"/>
<path d="M468.30 890.55L470.90 890.55L473.20 893.15L473.20 895.75L470.90 898.35L468.30 898.35L466.00 895.75L466.00 893.15Z" fill="#0000ff" shape-rendering="geometricPrecision"/>
<rect x="474" y="894" width="3" height="1" fill="#0000ff"/><rect x="482" y="894" width="3" height="1" fill="#0000ff"/>
<rect x="479" y="891" width="1" height="7" fill="#0000ff" opacity="0.45"/>
<path d="M478.30 890.55L480.90 890.55L483.20 893.15L483.20 895.75L480.90 898.35L478.30 898.35L476.00 895.75L476.00 893.15Z" fill="#0000ff" shape-rendering="geometricPrecision"/>
<rect x="484" y="894" width="3" height="1" fill="#0000ff"/><rect x="492" y="894" width="4" height="1" fill="#0000ff"/>
<rect x="489" y="890" width="1" height="7" fill="#0000ff" opacity="0.45"/>
<path d="M488.30 890.55L490.90 890.55L493.20 893.15L493.20 895.75L490.90 898.35L488.30 898.35L486.00 895.75L486.00 893.15Z" fill="#0000ff" shape-rendering="geometricPrecision"/>
<rect x="495" y="893" width="3" height="1" fill="#0000ff"/><rect x="503" y="893" width="3" height="1" fill="#0000ff"/>
<rect x="500" y="889" width="1" height="9" fill="#0000ff" opacity="0.45"/>
<path d="M499.30 889.55L501.90 889.55L504.20 892.15L504.20 894.75L501.90 897.35L499.30 897.35L497.00 894.75L497.00 892.15Z" fill="#0000ff" shape-rendering="geometricPrecision"/>
<rect x="505" y="892" width="3" height="1" fill="#0000ff"/><rect x="513" y="892" width="3" height="1" fill="#0000ff"/>
<rect x="510" y="888" width="1" height="9" fill="#0000ff" opacity="0.45"/>
<path d="M509.30 888.55L511.90 888.55L514.20 891.15L514.20 893.75L511.90 896.35L509.30 896.35L507.00 893.75L507.00 891.15Z" fill="#0000ff" shape-rendering="geometricPrecision"/>
<rect x="515" y="891" width="3" height="1" fill="#0000ff"/><rect x="523" y="891" width="3" height="1" fill="#0000ff"/>
<rect x="520" y="887" width="1" height="9" fill="#0000ff" opacity="0.45"/>
<path d="M519.30 887.55L521.90 887.55L524.20 890.15L524.20 892.75L521.90 895.35L519.30 895.35L517.00 892.75L517.00 890.15Z" fill="#0000ff" shape-rendering="geometricPrecision"/>
<rect x="525" y="889" width="3" height="1" fill="#0000ff"/><rect x="533" y="889" width="3" height="1" fill="#0000ff"/>
<rect x="530" y="885" width="1" height="9" fill="#0000ff" opacity="0.45"/>
<path d="M529.30 885.55L531.90 885.55L534.20 888.15L534.20 890.75L531.90 893.35L529.30 893.35L527.00 890.75L527.00 888.15Z" fill="#0000ff" shape-rendering="geometricPrecision"/>
<rect x="535" y="886" width="4" height="1" fill="#0000ff"/><rect x="544" y="886" width="3" height="1" fill="#0000ff"/>
<rect x="541" y="882" width="1" height="9" fill="#0000ff" opacity="0.45"/>
<path d="M540.30 882.55L542.90 882.55L545.20 885.15L545.20 887.75L542.90 890.35L540.30 890.35L538.00 887.75L538.00 885.15Z" fill="#0000ff" shape-rendering="geometricPrecision"/>
<rect x="546" y="883" width="3" height="1" fill="#0000ff"/><rect x="554" y="883" width="3" height="1" fill="#0000ff"/>
<rect x="551" y="879" width="1" height="9" fill="#0000ff" opacity="0.45"/>
<path d="M550.30 879.55L552.90 879.55L555.20 882.15L555.20 884.75L552.90 887.35L550.30 887.35L548.00 884.75L548.00 882.15Z" fill="#0000ff" shape-rendering="geometricPrecision"/>
<rect x="556" y="874" width="3" height="1" fill="#0000ff"/><rect x="564" y="874" width="3" height="1" fill="#0000ff"/>
<rect x="561" y="870" width="1" height="9" fill="#0000ff" opacity="0.45"/>
<path d="M560.30 870.55L562.90 870.55L565.20 873.15L565.20 875.75L562.90 878.35L560.30 878.35L558.00 875.75L558.00 873.15Z" fill="#0000ff" shape-rendering="geometricPrecision"/>
<rect x="566" y="866" width="3" height="1" fill="#0000ff"/><rect x="574" y="866" width="3" height="1" fill="#0000ff"/>
<rect x="571" y="862" width="1" height="9" fill="#0000ff" opacity="0.45"/>
<path d="M570.30 862.55L572.90 862.55L575.20 865.15L575.20 867.75L572.90 870.35L570.30 870.35L568.00 867.75L568.00 865.15Z" fill="#0000ff" shape-rendering="geometricPrecision"/>
<rect x="576" y="851" width="3" height="1" fill="#0000ff"/><rect x="584" y="851" width="3" height="1" fill="#0000ff"/>
<rect x="581" y="847" width="1" height="9" fill="#0000ff" opacity="0.45"/>
<path d="M580.30 847.55L582.90 847.55L585.20 850.15L585.20 852.75L582.90 855.35L580.30 855.35L578.00 852.75L578.00 850.15Z" fill="#0000ff" shape-rendering="geometricPrecision"/>
<rect x="586" y="831" width="4" height="1" fill="#0000ff"/><rect x="595" y="831" width="3" height="1" fill="#0000ff"/>
<rect x="592" y="827" width="1" height="9" fill="#0000ff" opacity="0.45"/>
<path d="M591.30 827.55L593.90 827.55L596.20 830.15L596.20 832.75L593.90 835.35L591.30 835.35L589.00 832.75L589.00 830.15Z" fill="#0000ff" shape-rendering="geometricPrecision"/>
<rect x="597" y="810" width="3" height="1" fill="#0000ff"/><rect x="605" y="810" width="3" height="1" fill="#0000ff"/>
<rect x="602" y="806" width="1" height="9" fill="#0000ff" opacity="0.45"/>
<path d="M601.30 806.55L603.90 806.55L606.20 809.15L606.20 811.75L603.90 814.35L601.30 814.35L599.00 811.75L599.00 809.15Z" fill="#0000ff" shape-rendering="geometricPrecision"/>
<rect x="607" y="781" width="3" height="1" fill="#0000ff"/><rect x="615" y="781" width="3" height="1" fill="#0000ff"/>
<rect x="612" y="777" width="1" height="9" fill="#0000ff" opacity="0.45"/>
<path d="M611.30 777.55L613.90 777.55L616.20 780.15L616.20 782.75L613.90 785.35L611.30 785.35L609.00 782.75L609.00 780.15Z" fill="#0000ff" shape-rendering="geometricPrecision"/>
<rect x="617" y="747" width="3" height="1" fill="#0000ff"/><rect x="625" y="747" width="3" height="1" fill="#0000ff"/>
<rect x="622" y="743" width="1" height="9" fill="#0000ff" opacity="0.45"/>
<path d="M621.30 743.55L623.90 743.55L626.20 746.15L626.20 748.75L623.90 751.35L621.30 751.35L619.00 748.75L619.00 746.15Z" fill="#0000ff" shape-rendering="geometricPrecision"/>
<rect x="627" y="711" width="3" height="1" fill="#0000ff"/><rect x="635" y="711" width="4" height="1" fill="#0000ff"/>
<rect x="632" y="708" width="1" height="7" fill="#0000ff" opacity="0.45"/>
<path d="M631.30 707.55L633.90 707.55L636.20 710.15L636.20 712.75L633.90 715.35L631.30 715.35L629.00 712.75L629.00 710.15Z" fill="#0000ff" shape-rendering="geometricPrecision"/>
<rect x="638" y="680" width="3" height="1" fill="#0000ff"/><rect x="646" y="680" width="3" height="1" fill="#0000ff"/>
<rect x="643" y="676" width="1" height="7" fill="#0000ff" opacity="0.45"/>
<path d="M642.30 676.55L644.90 676.55L647.20 679.15L647.20 681.75L644.90 684.35L642.30 684.35L640.00 681.75L640.00 679.15Z" fill="#0000ff" shape-rendering="geometricPrecision"/>
<rect x="648" y="652" width="3" height="1" fill="#0000ff"/><rect x="656" y="652" width="3" height="1" fill="#0000ff"/>
<rect x="653" y="648" width="1" height="9" fill="#0000ff" opacity="0.45"/>
<path d="M652.30 648.55L654.90 648.55L657.20 651.15L657.20 653.75L654.90 656.35L652.30 656.35L650.00 653.75L650.00 651.15Z" fill="#0000ff" shape-rendering="geometricPrecision"/>
<rect x="658" y="629" width="3" height="1" fill="#0000ff"/><rect x="666" y="629" width="3" height="1" fill="#0000ff"/>
<rect x="663" y="625" width="1" height="9" fill="#0000ff" opacity="0.45"/>
<path d="M662.30 625.55L664.90 625.55L667.20 628.15L667.20 630.75L664.90 633.35L662.30 633.35L660.00 630.75L660.00 628.15Z" fill="#0000ff" shape-rendering="geometricPrecision"/>
<rect x="668" y="606" width="3" height="1" fill="#0000ff"/><rect x="676" y="606" width="3" height="1" fill="#0000ff"/>
<rect x="673" y="601" width="1" height="11" fill="#0000ff" opacity="1"/>
<path d="M672.30 602.55L674.90 602.55L677.20 605.15L677.20 607.75L674.90 610.35L672.30 610.35L670.00 607.75L670.00 605.15Z" fill="#0000ff" shape-rendering="geometricPrecision"/>
<rect x="678" y="541" width="3" height="1" fill="#0000ff"/><rect x="686" y="541" width="4" height="1" fill="#0000ff"/>
<rect x="683" y="536" width="1" height="11" fill="#0000ff" opacity="1"/>
<path d="M682.30 537.55L684.90 537.55L687.20 540.15L687.20 542.75L684.90 545.35L682.30 545.35L680.00 542.75L680.00 540.15Z" fill="#0000ff" shape-rendering="geometricPrecision"/>
<rect x="689" y="479" width="3" height="1" fill="#0000ff"/><rect x="697" y="479" width="3" height="1" fill="#0000ff"/>
<rect x="694" y="473" width="1" height="13" fill="#0000ff" opacity="1"/>
<path d="M693.30 475.55L695.90 475.55L698.20 478.15L698.20 480.75L695.90 483.35L693.30 483.35L691.00 480.75L691.00 478.15Z" fill="#0000ff" shape-rendering="geometricPrecision"/>
<rect x="699" y="728" width="3" height="1" fill="#0000ff"/><rect x="707" y="728" width="3" height="1" fill="#0000ff"/>
<rect x="704" y="723" width="1" height="9" fill="#0000ff" opacity="1"/>
<path d="M703.30 724.55L705.90 724.55L708.20 727.15L708.20 729.75L705.90 732.35L703.30 732.35L701.00 729.75L701.00 727.15Z" fill="#0000ff" shape-rendering="geometricPrecision"/>
<rect x="709" y="804" width="3" height="1" fill="#0000ff"/><rect x="717" y="804" width="3" height="1" fill="#0000ff"/>
<rect x="714" y="800" width="1" height="9" fill="#0000ff" opacity="0.45"/>
<path d="M713.30 800.55L715.90 800.55L718.20 803.15L718.20 805.75L715.90 808.35L713.30 808.35L711.00 805.75L711.00 803.15Z" fill="#0000ff" shape-rendering="geometricPrecision"/>
<rect x="719" y="848" width="3" height="1" fill="#0000ff"/><rect x="727" y="848" width="3" height="1" fill="#0000ff"/>
<rect x="724" y="844" width="1" height="9" fill="#0000ff" opacity="0.45"/>
<path d="M723.30 844.55L725.90 844.55L728.20 847.15L728.20 849.75L725.90 852.35L723.30 852.35L721.00 849.75L721.00 847.15Z" fill="#0000ff" shape-rendering="geometricPrecision"/>
<rect x="729" y="866" width="3" height="1" fill="#0000ff"/><rect x="737" y="866" width="4" height="1" fill="#0000ff"/>
<rect x="734" y="862" width="1" height="9" fill="#0000ff" opacity="0.45"/>
<path d="M733.30 862.55L735.90 862.55L738.20 865.15L738.20 867.75L735.90 870.35L733.30 870.35L731.00 867.75L731.00 865.15Z" fill="#0000ff" shape-rendering="geometricPrecision"/>
<rect x="740" y="880" width="3" height="1" fill="#0000ff"/><rect x="748" y="880" width="3" height="1" fill="#0000ff"/>
<rect x="745" y="876" width="1" height="9" fill="#0000ff" opacity="0.45"/>
<path d="M744.30 876.55L746.90 876.55L749.20 879.15L749.20 881.75L746.90 884.35L744.30 884.35L742.00 881.75L742.00 879.15Z" fill="#0000ff" shape-rendering="geometricPrecision"/>
<rect x="750" y="886" width="3" height="1" fill="#0000ff"/><rect x="758" y="886" width="3" height="1" fill="#0000ff"/>
<rect x="755" y="882" width="1" height="9" fill="#0000ff" opacity="0.45"/>
<path d="M754.30 882.55L756.90 882.55L759.20 885.15L759.20 887.75L756.90 890.35L754.30 890.35L752.00 887.75L752.00 885.15Z" fill="#0000ff" shape-rendering="geometricPrecision"/>
<rect x="760" y="889" width="3" height="1" fill="#0000ff"/><rect x="768" y="889" width="3" height="1" fill="#0000ff"/>
<rect x="765" y="885" width="1" height="9" fill="#0000ff" opacity="0.45"/>
<path d="M764.30 885.55L766.90 885.55L769.20 888.15L769.20 890.75L766.90 893.35L764.30 893.35L762.00 890.75L762.00 888.15Z" fill="#0000ff" shape-rendering="geometricPrecision"/>
<rect x="770" y="893" width="3" height="1" fill="#0000ff"/><rect x="778" y="893" width="3" height="1" fill="#0000ff"/>
<rect x="775" y="889" width="1" height="7" fill="#0000ff" opacity="0.45"/>
<path d="M774.30 889.55L776.90 889.55L779.20 892.15L779.20 894.75L776.90 897.35L774.30 897.35L772.00 894.75L772.00 892.15Z" fill="#0000ff" shape-rendering="geometricPrecision"/>
<rect x="780" y="895" width="4" height="1" fill="#0000ff"/><rect x="789" y="895" width="3" height="1" fill="#0000ff"/>
<rect x="786" y="891" width="1" height="7" fill="#0000ff" opacity="0.45"/>
<path d="M785.30 891.55L787.90 891.55L790.20 894.15L790.20 896.75L787.90 899.35L785.30 899.35L783.00 896.75L783.00 894.15Z" fill="#0000ff" shape-rendering="geometricPrecision"/>
<rect x="791" y="896" width="3" height="1" fill="#0000ff"/><rect x="799" y="896" width="3" height="1" fill="#0000ff"/>
<rect x="796" y="892" width="1" height="7" fill="#0000ff" opacity="0.45"/>
<path d="M795.30 892.55L797.90 892.55L800.20 895.15L800.20 897.75L797.90 900.35L795.30 900.35L793.00 897.75L793.00 895.15Z" fill="#0000ff" shape-rendering="geometricPrecision"/>
<rect x="801" y="896" width="3" height="1" fill="#0000ff"/><rect x="809" y="896" width="3" height="1" fill="#0000ff"/>
<rect x="806" y="892" width="1" height="7" fill="#0000ff" opacity="0.45"/>
<path d="M805.30 892.55L807.90 892.55L810.20 895.15L810.20 897.75L807.90 900.35L805.30 900.35L803.00 897.75L803.00 895.15Z" fill="#0000ff" shape-rendering="geometricPrecision"/>
<rect x="811" y="896" width="3" height="1" fill="#0000ff"/><rect x="819" y="896" width="3" height="1" fill="#0000ff"/>
<rect x="816" y="892" width="1" height="7" fill="#0000ff" opacity="0.45"/>
<path d="M815.30 892.55L817.90 892.55L820.20 895.15L820.20 897.75L817.90 900.35L815.30 900.35L813.00 897.75L813.00 895.15Z" fill="#0000ff" shape-rendering="geometricPrecision"/>
<rect x="821" y="896" width="3" height="1" fill="#0000ff"/><rect x="829" y="896" width="3" height="1" fill="#0000ff"/>
<rect x="826" y="892" width="1" height="7" fill="#0000ff" opacity="0.45"/>
<path d="M825.30 892.55L827.90 892.55L830.20 895.15L830.20 897.75L827.90 900.35L825.30 900.35L823.00 897.75L823.00 895.15Z" fill="#0000ff" shape-rendering="geometricPrecision"/>
<rect x="831" y="896" width="4" height="1" fill="#0000ff"/><rect x="840" y="896" width="3" height="1" fill="#0000ff"/>
<rect x="837" y="892" width="1" height="7" fill="#0000ff" opacity="0.45"/>
<path d="M836.30 892.55L838.90 892.55L841.20 895.15L841.20 897.75L838.90 900.35L836.30 900.35L834.00 897.75L834.00 895.15Z" fill="#0000ff" shape-rendering="geometricPrecision"/>
<rect x="852" y="896" width="3" height="1" fill="#0000ff"/><rect x="860" y="896" width="3" height="1" fill="#0000ff"/>
<rect x="857" y="892" width="1" height="7" fill="#0000ff" opacity="0.45"/>
<path d="M856.30 892.55L858.90 892.55L861.20 895.15L861.20 897.75L858.90 900.35L856.30 900.35L854.00 897.75L854.00 895.15Z" fill="#0000ff" shape-rendering="geometricPrecision"/>
<rect x="872" y="896" width="3" height="1" fill="#0000ff"/><rect x="880" y="896" width="4" height="1" fill="#0000ff"/>
<rect x="877" y="892" width="1" height="7" fill="#0000ff" opacity="0.45"/>
<path d="M876.30 892.55L878.90 892.55L881.20 895.15L881.20 897.75L878.90 900.35L876.30 900.35L874.00 897.75L874.00 895.15Z" fill="#0000ff" shape-rendering="geometricPrecision"/>
<rect x="883" y="896" width="3" height="1" fill="#0000ff"/><rect x="891" y="896" width="3" height="1" fill="#0000ff"/>
<rect x="888" y="892" width="1" height="7" fill="#0000ff" opacity="0.45"/>
<path d="M887.30 892.55L889.90 892.55L892.20 895.15L892.20 897.75L889.90 900.35L887.30 900.35L885.00 897.75L885.00 895.15Z" fill="#0000ff" shape-rendering="geometricPrecision"/>
<rect x="903" y="896" width="3" height="1" fill="#0000ff"/><rect x="911" y="896" width="3" height="1" fill="#0000ff"/>
<rect x="908" y="892" width="1" height="7" fill="#0000ff" opacity="0.45"/>
<path d="M907.30 892.55L909.90 892.55L912.20 895.15L912.20 897.75L909.90 900.35L907.30 900.35L905.00 897.75L905.00 895.15Z" fill="#0000ff" shape-rendering="geometricPrecision"/>
<rect x="923" y="896" width="3" height="1" fill="#0000ff"/><rect x="931" y="896" width="4" height="1" fill="#0000ff"/>
<rect x="928" y="892" width="1" height="7" fill="#0000ff" opacity="0.45"/>
<path d="M927.30 892.55L929.90 892.55L932.20 895.15L932.20 897.75L929.90 900.35L927.30 900.35L925.00 897.75L925.00 895.15Z" fill="#0000ff" shape-rendering="geometricPrecision"/>
<rect x="954" y="896" width="3" height="1" fill="#0000ff"/><rect x="962" y="896" width="3" height="1" fill="#0000ff"/>
<rect x="959" y="892" width="1" height="7" fill="#0000ff" opacity="0.45"/>
<path d="M958.30 892.55L960.90 892.55L963.20 895.15L963.20 897.75L960.90 900.35L958.30 900.35L956.00 897.75L956.00 895.15Z" fill="#0000ff" shape-rendering="geometricPrecision"/></g>
<g shape-rendering="crispEdges"><rect x="127" y="896" width="3" height="1" fill="#008f00"/><rect x="135" y="896" width="3" height="1" fill="#008f00"/>
<path d="M128 892h7v1h-7zM129 893h6v1h-6zM130 894h5v1h-5zM130 895h4v1h-4zM131 896h3v1h-3zM131 897h2v1h-2zM132 898h1v1h-1z" fill="#008f00" shape-rendering="crispEdges"/>
<rect x="168" y="896" width="3" height="1" fill="#008f00"/><rect x="176" y="896" width="3" height="1" fill="#008f00"/>
<path d="M169 892h7v1h-7zM170 893h6v1h-6zM171 894h5v1h-5zM171 895h4v1h-4zM172 896h3v1h-3zM172 897h2v1h-2zM173 898h1v1h-1z" fill="#008f00" shape-rendering="crispEdges"/>
<rect x="188" y="896" width="3" height="1" fill="#008f00"/><rect x="196" y="896" width="3" height="1" fill="#008f00"/>
<path d="M189 892h7v1h-7zM190 893h6v1h-6zM191 894h5v1h-5zM191 895h4v1h-4zM192 896h3v1h-3zM192 897h2v1h-2zM193 898h1v1h-1z" fill="#008f00" shape-rendering="crispEdges"/>
<rect x="198" y="896" width="4" height="1" fill="#008f00"/><rect x="207" y="896" width="3" height="1" fill="#008f00"/>
<path d="M200 892h7v1h-7zM201 893h6v1h-6zM202 894h5v1h-5zM202 895h4v1h-4zM203 896h3v1h-3zM203 897h2v1h-2zM204 898h1v1h-1z" fill="#008f00" shape-rendering="crispEdges"/>
<rect x="209" y="896" width="3" height="1" fill="#008f00"/><rect x="217" y="896" width="3" height="1" fill="#008f00"/>
<path d="M210 892h7v1h-7zM211 893h6v1h-6zM212 894h5v1h-5zM212 895h4v1h-4zM213 896h3v1h-3zM213 897h2v1h-2zM214 898h1v1h-1z" fill="#008f00" shape-rendering="crispEdges"/>
<rect x="219" y="896" width="3" height="1" fill="#008f00"/><rect x="227" y="896" width="3" height="1" fill="#008f00"/>
<path d="M220 892h7v1h-7zM221 893h6v1h-6zM222 894h5v1h-5zM222 895h4v1h-4zM223 896h3v1h-3zM223 897h2v1h-2zM224 898h1v1h-1z" fill="#008f00" shape-rendering="crispEdges"/>
<rect x="229" y="896" width="3" height="1" fill="#008f00"/><rect x="237" y="896" width="3" height="1" fill="#008f00"/>
<path d="M230 892h7v1h-7zM231 893h6v1h-6zM232 894h5v1h-5zM232 895h4v1h-4zM233 896h3v1h-3zM233 897h2v1h-2zM234 898h1v1h-1z" fill="#008f00" shape-rendering="crispEdges"/>
<rect x="239" y="896" width="3" height="1" fill="#008f00"/><rect x="247" y="896" width="4" height="1" fill="#008f00"/>
<path d="M240 892h7v1h-7zM241 893h6v1h-6zM242 894h5v1h-5zM242 895h4v1h-4zM243 896h3v1h-3zM243 897h2v1h-2zM244 898h1v1h-1z" fill="#008f00" shape-rendering="crispEdges"/>
<rect x="250" y="896" width="3" height="1" fill="#008f00"/><rect x="258" y="896" width="3" height="1" fill="#008f00"/>
<path d="M251 892h7v1h-7zM252 893h6v1h-6zM253 894h5v1h-5zM253 895h4v1h-4zM254 896h3v1h-3zM254 897h2v1h-2zM255 898h1v1h-1z" fill="#008f00" shape-rendering="crispEdges"/>
<rect x="260" y="896" width="3" height="1" fill="#008f00"/><rect x="268" y="896" width="3" height="1" fill="#008f00"/>
<path d="M261 892h7v1h-7zM262 893h6v1h-6zM263 894h5v1h-5zM263 895h4v1h-4zM264 896h3v1h-3zM264 897h2v1h-2zM265 898h1v1h-1z" fill="#008f00" shape-rendering="crispEdges"/>
<rect x="270" y="896" width="3" height="1" fill="#008f00"/><rect x="278" y="896" width="3" height="1" fill="#008f00"/>
<path d="M271 892h7v1h-7zM272 893h6v1h-6zM273 894h5v1h-5zM273 895h4v1h-4zM274 896h3v1h-3zM274 897h2v1h-2zM275 898h1v1h-1z" fill="#008f00" shape-rendering="crispEdges"/>
<rect x="280" y="896" width="3" height="1" fill="#008f00"/><rect x="288" y="896" width="3" height="1" fill="#008f00"/>
<path d="M281 892h7v1h-7zM282 893h6v1h-6zM283 894h5v1h-5zM283 895h4v1h-4zM284 896h3v1h-3zM284 897h2v1h-2zM285 898h1v1h-1z" fill="#008f00" shape-rendering="crispEdges"/>
<rect x="290" y="896" width="3" height="1" fill="#008f00"/><rect x="298" y="896" width="4" height="1" fill="#008f00"/>
<path d="M291 892h7v1h-7zM292 893h6v1h-6zM293 894h5v1h-5zM293 895h4v1h-4zM294 896h3v1h-3zM294 897h2v1h-2zM295 898h1v1h-1z" fill="#008f00" shape-rendering="crispEdges"/>
<rect x="301" y="896" width="3" height="1" fill="#008f00"/><rect x="309" y="896" width="3" height="1" fill="#008f00"/>
<path d="M302 892h7v1h-7zM303 893h6v1h-6zM304 894h5v1h-5zM304 895h4v1h-4zM305 896h3v1h-3zM305 897h2v1h-2zM306 898h1v1h-1z" fill="#008f00" shape-rendering="crispEdges"/>
<rect x="311" y="896" width="3" height="1" fill="#008f00"/><rect x="319" y="896" width="3" height="1" fill="#008f00"/>
<path d="M312 892h7v1h-7zM313 893h6v1h-6zM314 894h5v1h-5zM314 895h4v1h-4zM315 896h3v1h-3zM315 897h2v1h-2zM316 898h1v1h-1z" fill="#008f00" shape-rendering="crispEdges"/>
<rect x="321" y="896" width="3" height="1" fill="#008f00"/><rect x="329" y="896" width="3" height="1" fill="#008f00"/>
<path d="M322 892h7v1h-7zM323 893h6v1h-6zM324 894h5v1h-5zM324 895h4v1h-4zM325 896h3v1h-3zM325 897h2v1h-2zM326 898h1v1h-1z" fill="#008f00" shape-rendering="crispEdges"/>
<rect x="331" y="896" width="3" height="1" fill="#008f00"/><rect x="339" y="896" width="3" height="1" fill="#008f00"/>
<path d="M332 892h7v1h-7zM333 893h6v1h-6zM334 894h5v1h-5zM334 895h4v1h-4zM335 896h3v1h-3zM335 897h2v1h-2zM336 898h1v1h-1z" fill="#008f00" shape-rendering="crispEdges"/>
<rect x="341" y="896" width="4" height="1" fill="#008f00"/><rect x="350" y="896" width="3" height="1" fill="#008f00"/>
<path d="M343 892h7v1h-7zM344 893h6v1h-6zM345 894h5v1h-5zM345 895h4v1h-4zM346 896h3v1h-3zM346 897h2v1h-2zM347 898h1v1h-1z" fill="#008f00" shape-rendering="crispEdges"/>
<rect x="352" y="896" width="3" height="1" fill="#008f00"/><rect x="360" y="896" width="3" height="1" fill="#008f00"/>
<path d="M353 892h7v1h-7zM354 893h6v1h-6zM355 894h5v1h-5zM355 895h4v1h-4zM356 896h3v1h-3zM356 897h2v1h-2zM357 898h1v1h-1z" fill="#008f00" shape-rendering="crispEdges"/>
<rect x="362" y="896" width="3" height="1" fill="#008f00"/><rect x="370" y="896" width="3" height="1" fill="#008f00"/>
<path d="M363 892h7v1h-7zM364 893h6v1h-6zM365 894h5v1h-5zM365 895h4v1h-4zM366 896h3v1h-3zM366 897h2v1h-2zM367 898h1v1h-1z" fill="#008f00" shape-rendering="crispEdges"/>
<rect x="372" y="896" width="3" height="1" fill="#008f00"/><rect x="380" y="896" width="3" height="1" fill="#008f00"/>
<path d="M373 892h7v1h-7zM374 893h6v1h-6zM375 894h5v1h-5zM375 895h4v1h-4zM376 896h3v1h-3zM376 897h2v1h-2zM377 898h1v1h-1z" fill="#008f00" shape-rendering="crispEdges"/>
<rect x="382" y="896" width="3" height="1" fill="#008f00"/><rect x="390" y="896" width="3" height="1" fill="#008f00"/>
<path d="M383 892h7v1h-7zM384 893h6v1h-6zM385 894h5v1h-5zM385 895h4v1h-4zM386 896h3v1h-3zM386 897h2v1h-2zM387 898h1v1h-1z" fill="#008f00" shape-rendering="crispEdges"/>
<rect x="392" y="896" width="4" height="1" fill="#008f00"/><rect x="401" y="896" width="3" height="1" fill="#008f00"/>
<path d="M394 892h7v1h-7zM395 893h6v1h-6zM396 894h5v1h-5zM396 895h4v1h-4zM397 896h3v1h-3zM397 897h2v1h-2zM398 898h1v1h-1z" fill="#008f00" shape-rendering="crispEdges"/>
<rect x="403" y="896" width="3" height="1" fill="#008f00"/><rect x="411" y="896" width="3" height="1" fill="#008f00"/>
<path d="M404 892h7v1h-7zM405 893h6v1h-6zM406 894h5v1h-5zM406 895h4v1h-4zM407 896h3v1h-3zM407 897h2v1h-2zM408 898h1v1h-1z" fill="#008f00" shape-rendering="crispEdges"/>
<rect x="413" y="894" width="3" height="1" fill="#008f00"/><rect x="421" y="894" width="3" height="1" fill="#008f00"/>
<path d="M414 890h7v1h-7zM415 891h6v1h-6zM416 892h5v1h-5zM416 893h4v1h-4zM417 894h3v1h-3zM417 895h2v1h-2zM418 896h1v1h-1z" fill="#008f00" shape-rendering="crispEdges"/>
<rect x="423" y="894" width="3" height="1" fill="#008f00"/><rect x="431" y="894" width="3" height="1" fill="#008f00"/>
<path d="M424 890h7v1h-7zM425 891h6v1h-6zM426 892h5v1h-5zM426 893h4v1h-4zM427 894h3v1h-3zM427 895h2v1h-2zM428 896h1v1h-1z" fill="#008f00" shape-rendering="crispEdges"/>
<rect x="433" y="893" width="3" height="1" fill="#008f00"/><rect x="441" y="893" width="4" height="1" fill="#008f00"/>
<path d="M434 889h7v1h-7zM435 890h6v1h-6zM436 891h5v1h-5zM436 892h4v1h-4zM437 893h3v1h-3zM437 894h2v1h-2zM438 895h1v1h-1z" fill="#008f00" shape-rendering="crispEdges"/>
<rect x="444" y="892" width="3" height="1" fill="#008f00"/><rect x="452" y="892" width="3" height="1" fill="#008f00"/>
<path d="M445 888h7v1h-7zM446 889h6v1h-6zM447 890h5v1h-5zM447 891h4v1h-4zM448 892h3v1h-3zM448 893h2v1h-2zM449 894h1v1h-1z" fill="#008f00" shape-rendering="crispEdges"/>
<rect x="454" y="892" width="3" height="1" fill="#008f00"/><rect x="462" y="892" width="3" height="1" fill="#008f00"/>
<path d="M455 888h7v1h-7zM456 889h6v1h-6zM457 890h5v1h-5zM457 891h4v1h-4zM458 892h3v1h-3zM458 893h2v1h-2zM459 894h1v1h-1z" fill="#008f00" shape-rendering="crispEdges"/>
<rect x="464" y="891" width="3" height="1" fill="#008f00"/><rect x="472" y="891" width="3" height="1" fill="#008f00"/>
<path d="M465 887h7v1h-7zM466 888h6v1h-6zM467 889h5v1h-5zM467 890h4v1h-4zM468 891h3v1h-3zM468 892h2v1h-2zM469 893h1v1h-1z" fill="#008f00" shape-rendering="crispEdges"/>
<rect x="474" y="889" width="3" height="1" fill="#008f00"/><rect x="482" y="889" width="3" height="1" fill="#008f00"/>
<path d="M475 885h7v1h-7zM476 886h6v1h-6zM477 887h5v1h-5zM477 888h4v1h-4zM478 889h3v1h-3zM478 890h2v1h-2zM479 891h1v1h-1z" fill="#008f00" shape-rendering="crispEdges"/>
<rect x="484" y="888" width="3" height="1" fill="#008f00"/><rect x="492" y="888" width="4" height="1" fill="#008f00"/>
<path d="M485 884h7v1h-7zM486 885h6v1h-6zM487 886h5v1h-5zM487 887h4v1h-4zM488 888h3v1h-3zM488 889h2v1h-2zM489 890h1v1h-1z" fill="#008f00" shape-rendering="crispEdges"/>
<rect x="495" y="886" width="3" height="1" fill="#008f00"/><rect x="503" y="886" width="3" height="1" fill="#008f00"/>
<path d="M496 882h7v1h-7zM497 883h6v1h-6zM498 884h5v1h-5zM498 885h4v1h-4zM499 886h3v1h-3zM499 887h2v1h-2zM500 888h1v1h-1z" fill="#008f00" shape-rendering="crispEdges"/>
<rect x="505" y="883" width="3" height="1" fill="#008f00"/><rect x="513" y="883" width="3" height="1" fill="#008f00"/>
<path d="M506 879h7v1h-7zM507 880h6v1h-6zM508 881h5v1h-5zM508 882h4v1h-4zM509 883h3v1h-3zM509 884h2v1h-2zM510 885h1v1h-1z" fill="#008f00" shape-rendering="crispEdges"/>
<rect x="515" y="880" width="3" height="1" fill="#008f00"/><rect x="523" y="880" width="3" height="1" fill="#008f00"/>
<path d="M516 876h7v1h-7zM517 877h6v1h-6zM518 878h5v1h-5zM518 879h4v1h-4zM519 880h3v1h-3zM519 881h2v1h-2zM520 882h1v1h-1z" fill="#008f00" shape-rendering="crispEdges"/>
<rect x="525" y="876" width="3" height="1" fill="#008f00"/><rect x="533" y="876" width="3" height="1" fill="#008f00"/>
<path d="M526 872h7v1h-7zM527 873h6v1h-6zM528 874h5v1h-5zM528 875h4v1h-4zM529 876h3v1h-3zM529 877h2v1h-2zM530 878h1v1h-1z" fill="#008f00" shape-rendering="crispEdges"/>
<rect x="535" y="870" width="4" height="1" fill="#008f00"/><rect x="544" y="870" width="3" height="1" fill="#008f00"/>
<path d="M537 866h7v1h-7zM538 867h6v1h-6zM539 868h5v1h-5zM539 869h4v1h-4zM540 870h3v1h-3zM540 871h2v1h-2zM541 872h1v1h-1z" fill="#008f00" shape-rendering="crispEdges"/>
<rect x="546" y="862" width="3" height="1" fill="#008f00"/><rect x="554" y="862" width="3" height="1" fill="#008f00"/>
<path d="M547 858h7v1h-7zM548 859h6v1h-6zM549 860h5v1h-5zM549 861h4v1h-4zM550 862h3v1h-3zM550 863h2v1h-2zM551 864h1v1h-1z" fill="#008f00" shape-rendering="crispEdges"/>
<rect x="556" y="851" width="3" height="1" fill="#008f00"/><rect x="564" y="851" width="3" height="1" fill="#008f00"/>
<path d="M557 847h7v1h-7zM558 848h6v1h-6zM559 849h5v1h-5zM559 850h4v1h-4zM560 851h3v1h-3zM560 852h2v1h-2zM561 853h1v1h-1z" fill="#008f00" shape-rendering="crispEdges"/>
<rect x="566" y="836" width="3" height="1" fill="#008f00"/><rect x="574" y="836" width="3" height="1" fill="#008f00"/>
<path d="M567 832h7v1h-7zM568 833h6v1h-6zM569 834h5v1h-5zM569 835h4v1h-4zM570 836h3v1h-3zM570 837h2v1h-2zM571 838h1v1h-1z" fill="#008f00" shape-rendering="crispEdges"/>
<rect x="576" y="817" width="3" height="1" fill="#008f00"/><rect x="584" y="817" width="3" height="1" fill="#008f00"/>
<path d="M577 813h7v1h-7zM578 814h6v1h-6zM579 815h5v1h-5zM579 816h4v1h-4zM580 817h3v1h-3zM580 818h2v1h-2zM581 819h1v1h-1z" fill="#008f00" shape-rendering="crispEdges"/>
<rect x="586" y="793" width="4" height="1" fill="#008f00"/><rect x="595" y="793" width="3" height="1" fill="#008f00"/>
<path d="M588 789h7v1h-7zM589 790h6v1h-6zM590 791h5v1h-5zM590 792h4v1h-4zM591 793h3v1h-3zM591 794h2v1h-2zM592 795h1v1h-1z" fill="#008f00" shape-rendering="crispEdges"/>
<rect x="597" y="764" width="3" height="1" fill="#008f00"/><rect x="605" y="764" width="3" height="1" fill="#008f00"/>
<path d="M598 760h7v1h-7zM599 761h6v1h-6zM600 762h5v1h-5zM600 763h4v1h-4zM601 764h3v1h-3zM601 765h2v1h-2zM602 766h1v1h-1z" fill="#008f00" shape-rendering="crispEdges"/>
<rect x="607" y="732" width="3" height="1" fill="#008f00"/><rect x="615" y="732" width="3" height="1" fill="#008f00"/>
<path d="M608 728h7v1h-7zM609 729h6v1h-6zM610 730h5v1h-5zM610 731h4v1h-4zM611 732h3v1h-3zM611 733h2v1h-2zM612 734h1v1h-1z" fill="#008f00" shape-rendering="crispEdges"/>
<rect x="617" y="701" width="3" height="1" fill="#008f00"/><rect x="625" y="701" width="3" height="1" fill="#008f00"/>
<path d="M618 697h7v1h-7zM619 698h6v1h-6zM620 699h5v1h-5zM620 700h4v1h-4zM621 701h3v1h-3zM621 702h2v1h-2zM622 703h1v1h-1z" fill="#008f00" shape-rendering="crispEdges"/>
<rect x="627" y="671" width="3" height="1" fill="#008f00"/><rect x="635" y="671" width="4" height="1" fill="#008f00"/>
<path d="M628 667h7v1h-7zM629 668h6v1h-6zM630 669h5v1h-5zM630 670h4v1h-4zM631 671h3v1h-3zM631 672h2v1h-2zM632 673h1v1h-1z" fill="#008f00" shape-rendering="crispEdges"/>
<rect x="638" y="650" width="3" height="1" fill="#008f00"/><rect x="646" y="650" width="3" height="1" fill="#008f00"/>
<path d="M639 646h7v1h-7zM640 647h6v1h-6zM641 648h5v1h-5zM641 649h4v1h-4zM642 650h3v1h-3zM642 651h2v1h-2zM643 652h1v1h-1z" fill="#008f00" shape-rendering="crispEdges"/>
<rect x="648" y="636" width="3" height="1" fill="#008f00"/><rect x="656" y="636" width="3" height="1" fill="#008f00"/>
<path d="M649 632h7v1h-7zM650 633h6v1h-6zM651 634h5v1h-5zM651 635h4v1h-4zM652 636h3v1h-3zM652 637h2v1h-2zM653 638h1v1h-1z" fill="#008f00" shape-rendering="crispEdges"/>
<rect x="658" y="631" width="3" height="1" fill="#008f00"/><rect x="666" y="631" width="3" height="1" fill="#008f00"/>
<path d="M659 627h7v1h-7zM660 628h6v1h-6zM661 629h5v1h-5zM661 630h4v1h-4zM662 631h3v1h-3zM662 632h2v1h-2zM663 633h1v1h-1z" fill="#008f00" shape-rendering="crispEdges"/>
<rect x="668" y="625" width="3" height="1" fill="#008f00"/><rect x="676" y="625" width="3" height="1" fill="#008f00"/>
<path d="M669 621h7v1h-7zM670 622h6v1h-6zM671 623h5v1h-5zM671 624h4v1h-4zM672 625h3v1h-3zM672 626h2v1h-2zM673 627h1v1h-1z" fill="#008f00" shape-rendering="crispEdges"/>
<rect x="678" y="603" width="3" height="1" fill="#008f00"/><rect x="686" y="603" width="4" height="1" fill="#008f00"/>
<path d="M679 599h7v1h-7zM680 600h6v1h-6zM681 601h5v1h-5zM681 602h4v1h-4zM682 603h3v1h-3zM682 604h2v1h-2zM683 605h1v1h-1z" fill="#008f00" shape-rendering="crispEdges"/>
<rect x="689" y="627" width="3" height="1" fill="#008f00"/><rect x="697" y="627" width="3" height="1" fill="#008f00"/>
<path d="M690 623h7v1h-7zM691 624h6v1h-6zM692 625h5v1h-5zM692 626h4v1h-4zM693 627h3v1h-3zM693 628h2v1h-2zM694 629h1v1h-1z" fill="#008f00" shape-rendering="crispEdges"/>
<rect x="699" y="822" width="3" height="1" fill="#008f00"/><rect x="707" y="822" width="3" height="1" fill="#008f00"/>
<path d="M700 818h7v1h-7zM701 819h6v1h-6zM702 820h5v1h-5zM702 821h4v1h-4zM703 822h3v1h-3zM703 823h2v1h-2zM704 824h1v1h-1z" fill="#008f00" shape-rendering="crispEdges"/>
<rect x="709" y="862" width="3" height="1" fill="#008f00"/><rect x="717" y="862" width="3" height="1" fill="#008f00"/>
<path d="M710 858h7v1h-7zM711 859h6v1h-6zM712 860h5v1h-5zM712 861h4v1h-4zM713 862h3v1h-3zM713 863h2v1h-2zM714 864h1v1h-1z" fill="#008f00" shape-rendering="crispEdges"/>
<rect x="719" y="878" width="3" height="1" fill="#008f00"/><rect x="727" y="878" width="3" height="1" fill="#008f00"/>
<path d="M720 874h7v1h-7zM721 875h6v1h-6zM722 876h5v1h-5zM722 877h4v1h-4zM723 878h3v1h-3zM723 879h2v1h-2zM724 880h1v1h-1z" fill="#008f00" shape-rendering="crispEdges"/>
<rect x="729" y="886" width="3" height="1" fill="#008f00"/><rect x="737" y="886" width="4" height="1" fill="#008f00"/>
<path d="M730 882h7v1h-7zM731 883h6v1h-6zM732 884h5v1h-5zM732 885h4v1h-4zM733 886h3v1h-3zM733 887h2v1h-2zM734 888h1v1h-1z" fill="#008f00" shape-rendering="crispEdges"/>
<rect x="740" y="888" width="3" height="1" fill="#008f00"/><rect x="748" y="888" width="3" height="1" fill="#008f00"/>
<path d="M741 884h7v1h-7zM742 885h6v1h-6zM743 886h5v1h-5zM743 887h4v1h-4zM744 888h3v1h-3zM744 889h2v1h-2zM745 890h1v1h-1z" fill="#008f00" shape-rendering="crispEdges"/>
<rect x="750" y="890" width="3" height="1" fill="#008f00"/><rect x="758" y="890" width="3" height="1" fill="#008f00"/>
<path d="M751 886h7v1h-7zM752 887h6v1h-6zM753 888h5v1h-5zM753 889h4v1h-4zM754 890h3v1h-3zM754 891h2v1h-2zM755 892h1v1h-1z" fill="#008f00" shape-rendering="crispEdges"/>
<rect x="760" y="894" width="3" height="1" fill="#008f00"/><rect x="768" y="894" width="3" height="1" fill="#008f00"/>
<path d="M761 890h7v1h-7zM762 891h6v1h-6zM763 892h5v1h-5zM763 893h4v1h-4zM764 894h3v1h-3zM764 895h2v1h-2zM765 896h1v1h-1z" fill="#008f00" shape-rendering="crispEdges"/>
<rect x="770" y="895" width="3" height="1" fill="#008f00"/><rect x="778" y="895" width="3" height="1" fill="#008f00"/>
<path d="M771 891h7v1h-7zM772 892h6v1h-6zM773 893h5v1h-5zM773 894h4v1h-4zM774 895h3v1h-3zM774 896h2v1h-2zM775 897h1v1h-1z" fill="#008f00" shape-rendering="crispEdges"/>
<rect x="780" y="895" width="4" height="1" fill="#008f00"/><rect x="789" y="895" width="3" height="1" fill="#008f00"/>
<path d="M782 891h7v1h-7zM783 892h6v1h-6zM784 893h5v1h-5zM784 894h4v1h-4zM785 895h3v1h-3zM785 896h2v1h-2zM786 897h1v1h-1z" fill="#008f00" shape-rendering="crispEdges"/>
<rect x="791" y="895" width="3" height="1" fill="#008f00"/><rect x="799" y="895" width="3" height="1" fill="#008f00"/>
<path d="M792 891h7v1h-7zM793 892h6v1h-6zM794 893h5v1h-5zM794 894h4v1h-4zM795 895h3v1h-3zM795 896h2v1h-2zM796 897h1v1h-1z" fill="#008f00" shape-rendering="crispEdges"/>
<rect x="801" y="895" width="3" height="1" fill="#008f00"/><rect x="809" y="895" width="3" height="1" fill="#008f00"/>
<path d="M802 891h7v1h-7zM803 892h6v1h-6zM804 893h5v1h-5zM804 894h4v1h-4zM805 895h3v1h-3zM805 896h2v1h-2zM806 897h1v1h-1z" fill="#008f00" shape-rendering="crispEdges"/>
<rect x="811" y="895" width="3" height="1" fill="#008f00"/><rect x="819" y="895" width="3" height="1" fill="#008f00"/>
<path d="M812 891h7v1h-7zM813 892h6v1h-6zM814 893h5v1h-5zM814 894h4v1h-4zM815 895h3v1h-3zM815 896h2v1h-2zM816 897h1v1h-1z" fill="#008f00" shape-rendering="crispEdges"/>
<rect x="821" y="895" width="3" height="1" fill="#008f00"/><rect x="829" y="895" width="3" height="1" fill="#008f00"/>
<path d="M822 891h7v1h-7zM823 892h6v1h-6zM824 893h5v1h-5zM824 894h4v1h-4zM825 895h3v1h-3zM825 896h2v1h-2zM826 897h1v1h-1z" fill="#008f00" shape-rendering="crispEdges"/>
<rect x="831" y="895" width="4" height="1" fill="#008f00"/><rect x="840" y="895" width="3" height="1" fill="#008f00"/>
<path d="M833 891h7v1h-7zM834 892h6v1h-6zM835 893h5v1h-5zM835 894h4v1h-4zM836 895h3v1h-3zM836 896h2v1h-2zM837 897h1v1h-1z" fill="#008f00" shape-rendering="crispEdges"/>
<rect x="842" y="895" width="3" height="1" fill="#008f00"/><rect x="850" y="895" width="3" height="1" fill="#008f00"/>
<path d="M843 891h7v1h-7zM844 892h6v1h-6zM845 893h5v1h-5zM845 894h4v1h-4zM846 895h3v1h-3zM846 896h2v1h-2zM847 897h1v1h-1z" fill="#008f00" shape-rendering="crispEdges"/>
<rect x="852" y="895" width="3" height="1" fill="#008f00"/><rect x="860" y="895" width="3" height="1" fill="#008f00"/>
<path d="M853 891h7v1h-7zM854 892h6v1h-6zM855 893h5v1h-5zM855 894h4v1h-4zM856 895h3v1h-3zM856 896h2v1h-2zM857 897h1v1h-1z" fill="#008f00" shape-rendering="crispEdges"/>
<rect x="862" y="895" width="3" height="1" fill="#008f00"/><rect x="870" y="895" width="3" height="1" fill="#008f00"/>
<path d="M863 891h7v1h-7zM864 892h6v1h-6zM865 893h5v1h-5zM865 894h4v1h-4zM866 895h3v1h-3zM866 896h2v1h-2zM867 897h1v1h-1z" fill="#008f00" shape-rendering="crispEdges"/>
<rect x="872" y="895" width="3" height="1" fill="#008f00"/><rect x="880" y="895" width="4" height="1" fill="#008f00"/>
<path d="M873 891h7v1h-7zM874 892h6v1h-6zM875 893h5v1h-5zM875 894h4v1h-4zM876 895h3v1h-3zM876 896h2v1h-2zM877 897h1v1h-1z" fill="#008f00" shape-rendering="crispEdges"/>
<rect x="883" y="895" width="3" height="1" fill="#008f00"/><rect x="891" y="895" width="3" height="1" fill="#008f00"/>
<path d="M884 891h7v1h-7zM885 892h6v1h-6zM886 893h5v1h-5zM886 894h4v1h-4zM887 895h3v1h-3zM887 896h2v1h-2zM888 897h1v1h-1z" fill="#008f00" shape-rendering="crispEdges"/>
<rect x="893" y="895" width="3" height="1" fill="#008f00"/><rect x="901" y="895" width="3" height="1" fill="#008f00"/>
<path d="M894 891h7v1h-7zM895 892h6v1h-6zM896 893h5v1h-5zM896 894h4v1h-4zM897 895h3v1h-3zM897 896h2v1h-2zM898 897h1v1h-1z" fill="#008f00" shape-rendering="crispEdges"/>
<rect x="903" y="895" width="3" height="1" fill="#008f00"/><rect x="911" y="895" width="3" height="1" fill="#008f00"/>
<path d="M904 891h7v1h-7zM905 892h6v1h-6zM906 893h5v1h-5zM906 894h4v1h-4zM907 895h3v1h-3zM907 896h2v1h-2zM908 897h1v1h-1z" fill="#008f00" shape-rendering="crispEdges"/>
<rect x="913" y="895" width="3" height="1" fill="#008f00"/><rect x="921" y="895" width="3" height="1" fill="#008f00"/>
<path d="M914 891h7v1h-7zM915 892h6v1h-6zM916 893h5v1h-5zM916 894h4v1h-4zM917 895h3v1h-3zM917 896h2v1h-2zM918 897h1v1h-1z" fill="#008f00" shape-rendering="crispEdges"/>
<rect x="923" y="895" width="3" height="1" fill="#008f00"/><rect x="931" y="895" width="4" height="1" fill="#008f00"/>
<path d="M924 891h7v1h-7zM925 892h6v1h-6zM926 893h5v1h-5zM926 894h4v1h-4zM927 895h3v1h-3zM927 896h2v1h-2zM928 897h1v1h-1z" fill="#008f00" shape-rendering="crispEdges"/>
<rect x="934" y="895" width="3" height="1" fill="#008f00"/><rect x="942" y="895" width="3" height="1" fill="#008f00"/>
<path d="M935 891h7v1h-7zM936 892h6v1h-6zM937 893h5v1h-5zM937 894h4v1h-4zM938 895h3v1h-3zM938 896h2v1h-2zM939 897h1v1h-1z" fill="#008f00" shape-rendering="crispEdges"/>
<rect x="944" y="895" width="3" height="1" fill="#008f00"/><rect x="952" y="895" width="3" height="1" fill="#008f00"/>
<path d="M945 891h7v1h-7zM946 892h6v1h-6zM947 893h5v1h-5zM947 894h4v1h-4zM948 895h3v1h-3zM948 896h2v1h-2zM949 897h1v1h-1z" fill="#008f00" shape-rendering="crispEdges"/>
<rect x="954" y="895" width="3" height="1" fill="#008f00"/><rect x="962" y="895" width="3" height="1" fill="#008f00"/>
<path d="M955 891h7v1h-7zM956 892h6v1h-6zM957 893h5v1h-5zM957 894h4v1h-4zM958 895h3v1h-3zM958 896h2v1h-2zM959 897h1v1h-1z" fill="#008f00" shape-rendering="crispEdges"/>
<rect x="1036" y="895" width="3" height="1" fill="#008f00"/><rect x="1044" y="895" width="3" height="1" fill="#008f00"/>
<path d="M1037 891h7v1h-7zM1038 892h6v1h-6zM1039 893h5v1h-5zM1039 894h4v1h-4zM1040 895h3v1h-3zM1040 896h2v1h-2zM1041 897h1v1h-1z" fill="#008f00" shape-rendering="crispEdges"/></g>
<g font-family="Liberation Sans" font-weight="bold" font-size="28" fill="#000"><text transform="translate(288.3 935.5) scale(1 1.11)" text-anchor="middle">-100</text><text transform="translate(490.5 935.5) scale(1 1.11)" text-anchor="middle">-50</text><text transform="translate(692.6 935.5) scale(1 1.11)" text-anchor="middle">0</text><text transform="translate(894.8 935.5) scale(1 1.11)" text-anchor="middle">50</text><text transform="translate(1097.0 935.5) scale(1 1.11)" text-anchor="middle">100</text><text transform="translate(121.5 907.1) scale(1 1.11)" text-anchor="end">0</text><text transform="translate(121.5 761.4) scale(1 1.11)" text-anchor="end">0.05</text><text transform="translate(121.5 615.6) scale(1 1.11)" text-anchor="end">0.1</text><text transform="translate(121.5 469.9) scale(1 1.11)" text-anchor="end">0.15</text><text transform="translate(121.5 324.1) scale(1 1.11)" text-anchor="end">0.2</text><text transform="translate(121.5 178.4) scale(1 1.11)" text-anchor="end">0.25</text><text transform="translate(1148.5 970.8) scale(1 1.08)" text-anchor="end">Long Electron RichDLLe</text></g>
<rect x="599" y="105" width="87" height="148" fill="#000"/><rect x="593.5" y="99.5" width="89" height="150" fill="#f2f2f2" stroke="#000" stroke-width="1"/><path d="M598 109h1v1h-1zM597 110h2v1h-2zM597 111h3v1h-3zM597 112h3v1h-3zM596 113h5v1h-5zM595 114h6v1h-6z" fill="#ff0000" shape-rendering="crispEdges"/><text transform="translate(604.3 117.0) scale(1 1.06)" font-family="Liberation Sans" font-weight="bold" font-size="18.8" fill="#000">Electron</text><path d="M597.30 132.55L599.90 132.55L602.20 135.15L602.20 137.75L599.90 140.35L597.30 140.35L595.00 137.75L595.00 135.15Z" fill="#0000ff" shape-rendering="geometricPrecision"/><text transform="translate(604.3 141.9) scale(1 1.06)" font-family="Liberation Sans" font-weight="bold" font-size="18.8" fill="#000">Muon</text><path d="M594 157h7v1h-7zM595 158h6v1h-6zM596 159h5v1h-5zM596 160h4v1h-4zM597 161h3v1h-3zM597 162h2v1h-2zM598 163h1v1h-1z" fill="#008f00" shape-rendering="crispEdges"/><text transform="translate(604.3 166.8) scale(1 1.06)" font-family="Liberation Sans" font-weight="bold" font-size="18.8" fill="#000">Pion</text><path d="M594 182h6v1h-6zM594 183h6v1h-6zM594 184h6v1h-6zM594 185h6v1h-6zM594 186h6v1h-6zM594 187h6v1h-6z" fill="#900090" shape-rendering="crispEdges"/><text transform="translate(604.3 191.7) scale(1 1.06)" font-family="Liberation Sans" font-weight="bold" font-size="18.8" fill="#000">Kaon</text><path d="M596 207h3v1h-3zM596 208h3v1h-3zM594 209h7v1h-7zM594 210h7v1h-7zM594 211h7v1h-7zM596 212h3v1h-3zM596 213h3v1h-3z" fill="#66cccc" shape-rendering="crispEdges"/><text transform="translate(604.3 216.6) scale(1 1.06)" font-family="Liberation Sans" font-weight="bold" font-size="18.8" fill="#000">Proton</text><path d="M598 233h1v1h-1zM597 234h2v1h-2zM596 235h4v1h-4zM596 236h4v1h-4zM596 237h4v1h-4zM597 238h2v1h-2z" fill="#000000" shape-rendering="crispEdges"/><rect x="595" y="236" width="1" height="1" fill="#000" shape-rendering="crispEdges"/><text transform="translate(604.3 241.5) scale(1 1.06)" font-family="Liberation Sans" font-weight="bold" font-size="18.8" fill="#000">Ghost</text>
</svg></body></html>
